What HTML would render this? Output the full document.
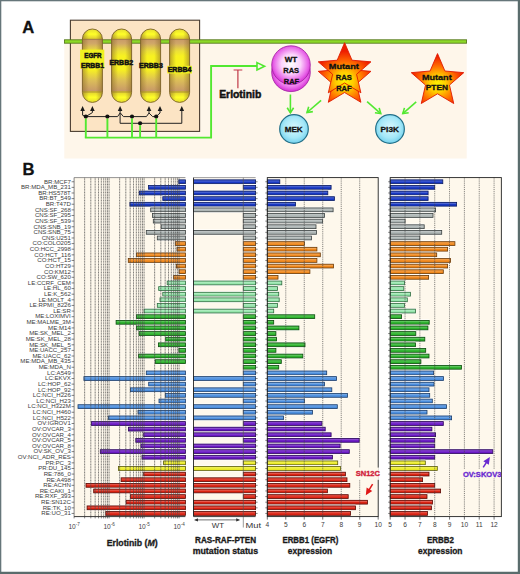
<!DOCTYPE html>
<html><head><meta charset="utf-8"><title>Figure</title>
<style>
html,body{margin:0;padding:0;background:#fff;}
body{width:520px;height:574px;overflow:hidden;}
svg{display:block;font-family:"Liberation Sans", sans-serif;}
</style></head>
<body>
<svg width="520" height="574" viewBox="0 0 520 574">
<rect width="520" height="574" fill="#fff"/>
<rect x="64.3" y="42" width="402.4" height="116.5" fill="#fef6ea"/>
<rect x="70.4" y="20.2" width="129.2" height="111.2" fill="#fce4c4" stroke="#4a3c30" stroke-width="1.1"/>
<rect x="64.4" y="39.8" width="402.2" height="3.4" fill="#8cd828" stroke="#4e7014" stroke-width="0.8"/>
<defs>
<linearGradient id="capv" x1="0" y1="0" x2="0" y2="1">
 <stop offset="0" stop-color="#e4dc30"/>
 <stop offset="0.07" stop-color="#ffff28"/>
 <stop offset="0.13" stop-color="#e0d030"/>
 <stop offset="0.142" stop-color="#c89a68"/>
 <stop offset="0.2" stop-color="#d0a868"/>
 <stop offset="0.3" stop-color="#ece038"/>
 <stop offset="0.37" stop-color="#f8f220"/>
 <stop offset="0.55" stop-color="#f8f220"/>
 <stop offset="0.7" stop-color="#dcbe58"/>
 <stop offset="0.84" stop-color="#c89a68"/>
 <stop offset="0.855" stop-color="#e0d030"/>
 <stop offset="0.93" stop-color="#ffff28"/>
 <stop offset="1" stop-color="#e4dc30"/>
</linearGradient>
<linearGradient id="caph" x1="0" y1="0" x2="1" y2="0">
 <stop offset="0" stop-color="#8a6a28" stop-opacity="0.55"/>
 <stop offset="0.32" stop-color="#8a6a28" stop-opacity="0"/>
 <stop offset="0.68" stop-color="#8a6a28" stop-opacity="0"/>
 <stop offset="1" stop-color="#8a6a28" stop-opacity="0.55"/>
</linearGradient>
<radialGradient id="mag" cx="0.5" cy="0.47" r="0.55">
 <stop offset="0" stop-color="#ffffff"/>
 <stop offset="0.45" stop-color="#fcd4fc"/>
 <stop offset="0.8" stop-color="#e866e8"/>
 <stop offset="1" stop-color="#d020d0"/>
</radialGradient>
<radialGradient id="cyan" cx="0.5" cy="0.45" r="0.6">
 <stop offset="0" stop-color="#d8f8ff"/>
 <stop offset="0.6" stop-color="#a6e8f8"/>
 <stop offset="1" stop-color="#66cceb"/>
</radialGradient>
<radialGradient id="star1" gradientUnits="userSpaceOnUse" cx="344.6" cy="81" r="30">
 <stop offset="0" stop-color="#fff200"/>
 <stop offset="0.3" stop-color="#ffcc00"/>
 <stop offset="0.65" stop-color="#ff6a00"/>
 <stop offset="1" stop-color="#ee1c00"/>
</radialGradient>
<radialGradient id="star2" gradientUnits="userSpaceOnUse" cx="437.5" cy="84" r="28">
 <stop offset="0" stop-color="#fff200"/>
 <stop offset="0.3" stop-color="#ffcc00"/>
 <stop offset="0.65" stop-color="#ff6a00"/>
 <stop offset="1" stop-color="#ee1c00"/>
</radialGradient>
<radialGradient id="star" cx="0.5" cy="0.55" r="0.55">
 <stop offset="0" stop-color="#fff200"/>
 <stop offset="0.35" stop-color="#ffc800"/>
 <stop offset="0.7" stop-color="#ff6a00"/>
 <stop offset="1" stop-color="#ee1c00"/>
</radialGradient>
</defs>
<rect x="82.4" y="29" width="20" height="73.4" rx="10" ry="10" fill="url(#capv)"/>
<rect x="82.4" y="29" width="20" height="73.4" rx="10" ry="10" fill="url(#caph)" stroke="#7a6028" stroke-width="0.9"/>
<line x1="82.8" y1="39.3" x2="102" y2="39.3" stroke="#8a6a30" stroke-width="0.6"/>
<line x1="82.8" y1="92" x2="102" y2="92" stroke="#8a6a30" stroke-width="0.6"/>
<rect x="111.6" y="29" width="20" height="73.4" rx="10" ry="10" fill="url(#capv)"/>
<rect x="111.6" y="29" width="20" height="73.4" rx="10" ry="10" fill="url(#caph)" stroke="#7a6028" stroke-width="0.9"/>
<line x1="112" y1="39.3" x2="131.2" y2="39.3" stroke="#8a6a30" stroke-width="0.6"/>
<line x1="112" y1="92" x2="131.2" y2="92" stroke="#8a6a30" stroke-width="0.6"/>
<rect x="140.6" y="29" width="20" height="73.4" rx="10" ry="10" fill="url(#capv)"/>
<rect x="140.6" y="29" width="20" height="73.4" rx="10" ry="10" fill="url(#caph)" stroke="#7a6028" stroke-width="0.9"/>
<line x1="141" y1="39.3" x2="160.2" y2="39.3" stroke="#8a6a30" stroke-width="0.6"/>
<line x1="141" y1="92" x2="160.2" y2="92" stroke="#8a6a30" stroke-width="0.6"/>
<rect x="169.6" y="29" width="20" height="73.4" rx="10" ry="10" fill="url(#capv)"/>
<rect x="169.6" y="29" width="20" height="73.4" rx="10" ry="10" fill="url(#caph)" stroke="#7a6028" stroke-width="0.9"/>
<line x1="170" y1="39.3" x2="189.2" y2="39.3" stroke="#8a6a30" stroke-width="0.6"/>
<line x1="170" y1="92" x2="189.2" y2="92" stroke="#8a6a30" stroke-width="0.6"/>
<rect x="80.1" y="49.6" width="24.2" height="19" fill="#f0f020"/>
<rect x="167.3" y="65.8" width="24.6" height="7.7" fill="#f0f020"/>
<text x="92.95" y="57.9" font-size="6.6" font-weight="bold" fill="#111" text-anchor="middle" textLength="17.3" lengthAdjust="spacingAndGlyphs" stroke="#111" stroke-width="0.5">EGFR</text>
<text x="92.45" y="67.5" font-size="6.6" font-weight="bold" fill="#111" text-anchor="middle" textLength="23.1" lengthAdjust="spacingAndGlyphs" stroke="#111" stroke-width="0.5">ERBB1</text>
<text x="121.25" y="64.6" font-size="6.6" font-weight="bold" fill="#111" text-anchor="middle" textLength="23.7" lengthAdjust="spacingAndGlyphs" stroke="#111" stroke-width="0.5">ERBB2</text>
<text x="150.95" y="67.8" font-size="6.6" font-weight="bold" fill="#111" text-anchor="middle" textLength="23.7" lengthAdjust="spacingAndGlyphs" stroke="#111" stroke-width="0.5">ERBB3</text>
<text x="179.6" y="71.6" font-size="6.6" font-weight="bold" fill="#111" text-anchor="middle" textLength="23.8" lengthAdjust="spacingAndGlyphs" stroke="#111" stroke-width="0.5">ERBB4</text>
<path d="M82.6 106 L80.3 111 L84.9 111 Z" fill="#1a1a1a"/>
<path d="M92.4 106 L90.1 111 L94.7 111 Z" fill="#1a1a1a"/>
<path d="M120.1 106 L117.8 111 L122.4 111 Z" fill="#1a1a1a"/>
<path d="M149 106 L146.7 111 L151.3 111 Z" fill="#1a1a1a"/>
<path d="M160 106 L157.7 111 L162.3 111 Z" fill="#1a1a1a"/>
<path d="M181.8 106 L179.5 111 L184.1 111 Z" fill="#1a1a1a"/>
<path d="M82.6 110 L82.6 115.2 L85.8 116.6" stroke="#222" stroke-width="1" fill="none" stroke-linejoin="round"/>
<path d="M92.4 110 L92.4 112.6 L85.8 116.6" stroke="#222" stroke-width="1" fill="none" stroke-linejoin="round"/>
<path d="M85.8 116.6 L117.6 116.6 L120.1 113" stroke="#222" stroke-width="1" fill="none" stroke-linejoin="round"/>
<path d="M120.1 110 L120.1 123.3 L181.8 123.3 L181.8 110" stroke="#222" stroke-width="1" fill="none" stroke-linejoin="round"/>
<path d="M120.4 113 L123.4 116.6 L146.4 116.6 L149 113" stroke="#222" stroke-width="1" fill="none" stroke-linejoin="round"/>
<path d="M149 110 L149 113 L152.6 116.6 L156.2 116.6" stroke="#222" stroke-width="1" fill="none" stroke-linejoin="round"/>
<path d="M160 110 L160 113 L156.2 116.6" stroke="#222" stroke-width="1" fill="none" stroke-linejoin="round"/>
<circle cx="85.8" cy="116.6" r="2.1" fill="#111"/>
<circle cx="107.4" cy="116.6" r="2.1" fill="#111"/>
<circle cx="132" cy="116.6" r="2.1" fill="#111"/>
<circle cx="156.2" cy="116.6" r="2.1" fill="#111"/>
<circle cx="140.1" cy="123.3" r="2.1" fill="#111"/>
<line x1="85.8" y1="118.6" x2="85.8" y2="137.6" stroke="#52e830" stroke-width="1.9" fill="none" stroke-linejoin="miter"/>
<line x1="107.4" y1="118.6" x2="107.4" y2="137.6" stroke="#52e830" stroke-width="1.9" fill="none" stroke-linejoin="miter"/>
<line x1="132" y1="118.6" x2="132" y2="137.6" stroke="#52e830" stroke-width="1.9" fill="none" stroke-linejoin="miter"/>
<line x1="156.2" y1="118.6" x2="156.2" y2="137.6" stroke="#52e830" stroke-width="1.9" fill="none" stroke-linejoin="miter"/>
<line x1="140.1" y1="125.3" x2="140.1" y2="137.6" stroke="#52e830" stroke-width="1.9" fill="none" stroke-linejoin="miter"/>
<path d="M84.85 137.6 L211.1 137.6 L211.1 66 L257 66" stroke="#52e830" stroke-width="1.9" fill="none" stroke-linejoin="miter"/>
<path d="M257 62.6 L264.6 66.2 L257 69.9 Z" stroke="#52e830" stroke-width="1.6" fill="#fdf5ea"/>
<path d="M233.6 70 L242.3 70 M237.9 70 L237.9 88.3" stroke="#c03848" stroke-width="1.2" fill="none"/>
<text x="240.25" y="98.1" font-size="10" font-weight="bold" fill="#111" text-anchor="middle" textLength="42.1" lengthAdjust="spacingAndGlyphs" stroke="#111" stroke-width="0.45">Erlotinib</text>
<circle cx="291" cy="72.3" r="19.3" fill="url(#mag)" stroke="#a020a0" stroke-width="0.8"/>
<circle cx="291" cy="65.1" r="19.3" fill="url(#mag)" stroke="#a020a0" stroke-width="0.8"/>
<text x="291" y="61.7" font-size="7.4" font-weight="bold" fill="#111" text-anchor="middle" textLength="12.5" lengthAdjust="spacingAndGlyphs" stroke="#111" stroke-width="0.3">WT</text>
<text x="291.2" y="72.8" font-size="7.4" font-weight="bold" fill="#111" text-anchor="middle" textLength="15.9" lengthAdjust="spacingAndGlyphs" stroke="#111" stroke-width="0.3">RAS</text>
<text x="291.5" y="84.3" font-size="7.4" font-weight="bold" fill="#111" text-anchor="middle" textLength="15.4" lengthAdjust="spacingAndGlyphs" stroke="#111" stroke-width="0.3">RAF</text>
<circle cx="294" cy="129" r="14.3" fill="url(#cyan)" stroke="#236f88" stroke-width="1.2"/>
<text x="293.7" y="131.7" font-size="7.6" font-weight="bold" fill="#111" text-anchor="middle" textLength="18" lengthAdjust="spacingAndGlyphs" stroke="#111" stroke-width="0.3">MEK</text>
<circle cx="390" cy="129" r="14.35" fill="url(#cyan)" stroke="#236f88" stroke-width="1.2"/>
<text x="389.8" y="131.7" font-size="7.8" font-weight="bold" fill="#111" text-anchor="middle" textLength="18.4" lengthAdjust="spacingAndGlyphs" stroke="#111" stroke-width="0.3">PI3K</text>
<polygon points="344.6,52.2 352.01,69.71 370.94,71.34 356.58,83.79 360.88,102.31 344.6,92.5 328.32,102.31 332.62,83.79 318.26,71.34 337.19,69.71" fill="url(#star1)" stroke="#e01800" stroke-width="0.9"/>
<polygon points="344.6,42.7 352.01,60.21 370.94,61.84 356.58,74.29 360.88,92.81 344.6,83 328.32,92.81 332.62,74.29 318.26,61.84 337.19,60.21" fill="url(#star1)" stroke="#e01800" stroke-width="0.9"/>
<text x="343.8" y="68.8" font-size="7.2" font-weight="bold" fill="#111" text-anchor="middle" textLength="30" lengthAdjust="spacingAndGlyphs" stroke="#111" stroke-width="0.3">Mutant</text>
<text x="343.85" y="79.9" font-size="7.2" font-weight="bold" fill="#111" text-anchor="middle" textLength="16.1" lengthAdjust="spacingAndGlyphs" stroke="#111" stroke-width="0.3">RAS</text>
<text x="343.85" y="90.7" font-size="7.2" font-weight="bold" fill="#111" text-anchor="middle" textLength="15.3" lengthAdjust="spacingAndGlyphs" stroke="#111" stroke-width="0.3">RAF</text>
<polygon points="437.5,53.6 444.91,71.01 463.75,72.67 449.48,85.09 453.72,103.53 437.5,93.8 421.28,103.53 425.52,85.09 411.25,72.67 430.09,71.01" fill="url(#star2)" stroke="#e01800" stroke-width="0.9"/>
<text x="436.8" y="79.8" font-size="7.6" font-weight="bold" fill="#111" text-anchor="middle" textLength="29.8" lengthAdjust="spacingAndGlyphs" stroke="#111" stroke-width="0.3">Mutant</text>
<text x="436.85" y="90.4" font-size="7.6" font-weight="bold" fill="#111" text-anchor="middle" textLength="22.1" lengthAdjust="spacingAndGlyphs" stroke="#111" stroke-width="0.3">PTEN</text>
<line x1="290.4" y1="94.5" x2="290.4" y2="112.8" stroke="#52e830" stroke-width="1.6" fill="none"/>
<path d="M287.2 107.8 L290.4 112.8 L293.6 107.8" stroke="#52e830" stroke-width="1.6" fill="none"/>
<line x1="321.1" y1="100.3" x2="307" y2="112.5" stroke="#52e830" stroke-width="1.6" fill="none"/>
<path d="M308.69 106.81 L307 112.5 L312.87 111.65" stroke="#52e830" stroke-width="1.6" fill="none"/>
<line x1="367.1" y1="101.6" x2="380.8" y2="113.6" stroke="#52e830" stroke-width="1.6" fill="none"/>
<path d="M374.93 112.71 L380.8 113.6 L379.15 107.9" stroke="#52e830" stroke-width="1.6" fill="none"/>
<line x1="416.2" y1="101.9" x2="402.8" y2="113.6" stroke="#52e830" stroke-width="1.6" fill="none"/>
<path d="M404.46 107.9 L402.8 113.6 L408.67 112.72" stroke="#52e830" stroke-width="1.6" fill="none"/>
<text x="28.2" y="33.1" font-size="16.6" font-weight="bold" fill="#111" text-anchor="middle" stroke="#111" stroke-width="0.3">A</text>
<text x="28.4" y="175.2" font-size="16.6" font-weight="bold" fill="#111" text-anchor="middle" stroke="#111" stroke-width="0.3">B</text>
<rect x="74.1" y="177.6" width="111.3" height="339" fill="#fef8ec"/>
<rect x="178.8" y="178.65" width="6.6" height="6.2" fill="#fffefb"/>
<rect x="178.8" y="179.85" width="6.6" height="3.8" fill="#1838c4" stroke="#0c1c60" stroke-width="0.8"/>
<rect x="179.3" y="180.55" width="5.6" height="1" fill="#fff" opacity="0.25"/>
<rect x="148.5" y="184.27" width="36.9" height="6.2" fill="#fffefb"/>
<rect x="148.5" y="185.47" width="36.9" height="3.8" fill="#1838c4" stroke="#0c1c60" stroke-width="0.8"/>
<rect x="149" y="186.17" width="35.9" height="1" fill="#fff" opacity="0.25"/>
<rect x="139.3" y="189.89" width="46.1" height="6.2" fill="#fffefb"/>
<rect x="139.3" y="191.09" width="46.1" height="3.8" fill="#1838c4" stroke="#0c1c60" stroke-width="0.8"/>
<rect x="139.8" y="191.79" width="45.1" height="1" fill="#fff" opacity="0.25"/>
<rect x="162.8" y="195.52" width="22.6" height="6.2" fill="#fffefb"/>
<rect x="162.8" y="196.72" width="22.6" height="3.8" fill="#1838c4" stroke="#0c1c60" stroke-width="0.8"/>
<rect x="163.3" y="197.42" width="21.6" height="1" fill="#fff" opacity="0.25"/>
<rect x="129.9" y="201.14" width="55.5" height="6.2" fill="#fffefb"/>
<rect x="129.9" y="202.34" width="55.5" height="3.8" fill="#1838c4" stroke="#0c1c60" stroke-width="0.8"/>
<rect x="130.4" y="203.04" width="54.5" height="1" fill="#fff" opacity="0.25"/>
<rect x="150.7" y="206.76" width="34.7" height="6.2" fill="#fffefb"/>
<rect x="150.7" y="207.96" width="34.7" height="3.8" fill="#adb5b4" stroke="#3a4040" stroke-width="0.8"/>
<rect x="151.2" y="208.66" width="33.7" height="1" fill="#fff" opacity="0.25"/>
<rect x="152.4" y="212.38" width="33" height="6.2" fill="#fffefb"/>
<rect x="152.4" y="213.58" width="33" height="3.8" fill="#adb5b4" stroke="#3a4040" stroke-width="0.8"/>
<rect x="152.9" y="214.28" width="32" height="1" fill="#fff" opacity="0.25"/>
<rect x="153.3" y="218" width="32.1" height="6.2" fill="#fffefb"/>
<rect x="153.3" y="219.2" width="32.1" height="3.8" fill="#adb5b4" stroke="#3a4040" stroke-width="0.8"/>
<rect x="153.8" y="219.9" width="31.1" height="1" fill="#fff" opacity="0.25"/>
<rect x="161.2" y="223.63" width="24.2" height="6.2" fill="#fffefb"/>
<rect x="161.2" y="224.83" width="24.2" height="3.8" fill="#adb5b4" stroke="#3a4040" stroke-width="0.8"/>
<rect x="161.7" y="225.53" width="23.2" height="1" fill="#fff" opacity="0.25"/>
<rect x="146.3" y="229.25" width="39.1" height="6.2" fill="#fffefb"/>
<rect x="146.3" y="230.45" width="39.1" height="3.8" fill="#adb5b4" stroke="#3a4040" stroke-width="0.8"/>
<rect x="146.8" y="231.15" width="38.1" height="1" fill="#fff" opacity="0.25"/>
<rect x="157.3" y="234.87" width="28.1" height="6.2" fill="#fffefb"/>
<rect x="157.3" y="236.07" width="28.1" height="3.8" fill="#adb5b4" stroke="#3a4040" stroke-width="0.8"/>
<rect x="157.8" y="236.77" width="27.1" height="1" fill="#fff" opacity="0.25"/>
<rect x="175.3" y="240.49" width="10.1" height="6.2" fill="#fffefb"/>
<rect x="175.3" y="241.69" width="10.1" height="3.8" fill="#f0881c" stroke="#6a3a08" stroke-width="0.8"/>
<rect x="175.8" y="242.39" width="9.1" height="1" fill="#fff" opacity="0.25"/>
<rect x="177" y="246.11" width="8.4" height="6.2" fill="#fffefb"/>
<rect x="177" y="247.31" width="8.4" height="3.8" fill="#f0881c" stroke="#6a3a08" stroke-width="0.8"/>
<rect x="177.5" y="248.01" width="7.4" height="1" fill="#fff" opacity="0.25"/>
<rect x="136.4" y="251.74" width="49" height="6.2" fill="#fffefb"/>
<rect x="136.4" y="252.94" width="49" height="3.8" fill="#f0881c" stroke="#6a3a08" stroke-width="0.8"/>
<rect x="136.9" y="253.64" width="48" height="1" fill="#fff" opacity="0.25"/>
<rect x="128.3" y="257.36" width="57.1" height="6.2" fill="#fffefb"/>
<rect x="128.3" y="258.56" width="57.1" height="3.8" fill="#f0881c" stroke="#6a3a08" stroke-width="0.8"/>
<rect x="128.8" y="259.26" width="56.1" height="1" fill="#fff" opacity="0.25"/>
<rect x="176.5" y="262.98" width="8.9" height="6.2" fill="#fffefb"/>
<rect x="176.5" y="264.18" width="8.9" height="3.8" fill="#f0881c" stroke="#6a3a08" stroke-width="0.8"/>
<rect x="177" y="264.88" width="7.9" height="1" fill="#fff" opacity="0.25"/>
<rect x="179.1" y="268.6" width="6.3" height="6.2" fill="#fffefb"/>
<rect x="179.1" y="269.8" width="6.3" height="3.8" fill="#f0881c" stroke="#6a3a08" stroke-width="0.8"/>
<rect x="179.6" y="270.5" width="5.3" height="1" fill="#fff" opacity="0.25"/>
<rect x="173.7" y="274.22" width="11.7" height="6.2" fill="#fffefb"/>
<rect x="173.7" y="275.42" width="11.7" height="3.8" fill="#f0881c" stroke="#6a3a08" stroke-width="0.8"/>
<rect x="174.2" y="276.12" width="10.7" height="1" fill="#fff" opacity="0.25"/>
<rect x="167.2" y="279.85" width="18.2" height="6.2" fill="#fffefb"/>
<rect x="167.2" y="281.05" width="18.2" height="3.8" fill="#96e6ac" stroke="#2e6a3e" stroke-width="0.8"/>
<rect x="167.7" y="281.75" width="17.2" height="1" fill="#fff" opacity="0.25"/>
<rect x="158.7" y="285.47" width="26.7" height="6.2" fill="#fffefb"/>
<rect x="158.7" y="286.67" width="26.7" height="3.8" fill="#96e6ac" stroke="#2e6a3e" stroke-width="0.8"/>
<rect x="159.2" y="287.37" width="25.7" height="1" fill="#fff" opacity="0.25"/>
<rect x="162.8" y="291.09" width="22.6" height="6.2" fill="#fffefb"/>
<rect x="162.8" y="292.29" width="22.6" height="3.8" fill="#96e6ac" stroke="#2e6a3e" stroke-width="0.8"/>
<rect x="163.3" y="292.99" width="21.6" height="1" fill="#fff" opacity="0.25"/>
<rect x="160" y="296.71" width="25.4" height="6.2" fill="#fffefb"/>
<rect x="160" y="297.91" width="25.4" height="3.8" fill="#96e6ac" stroke="#2e6a3e" stroke-width="0.8"/>
<rect x="160.5" y="298.61" width="24.4" height="1" fill="#fff" opacity="0.25"/>
<rect x="157.3" y="302.33" width="28.1" height="6.2" fill="#fffefb"/>
<rect x="157.3" y="303.53" width="28.1" height="3.8" fill="#96e6ac" stroke="#2e6a3e" stroke-width="0.8"/>
<rect x="157.8" y="304.23" width="27.1" height="1" fill="#fff" opacity="0.25"/>
<rect x="144.1" y="307.96" width="41.3" height="6.2" fill="#fffefb"/>
<rect x="144.1" y="309.16" width="41.3" height="3.8" fill="#96e6ac" stroke="#2e6a3e" stroke-width="0.8"/>
<rect x="144.6" y="309.86" width="40.3" height="1" fill="#fff" opacity="0.25"/>
<rect x="136.5" y="313.58" width="48.9" height="6.2" fill="#fffefb"/>
<rect x="136.5" y="314.78" width="48.9" height="3.8" fill="#2db42d" stroke="#0c4a0c" stroke-width="0.8"/>
<rect x="137" y="315.48" width="47.9" height="1" fill="#fff" opacity="0.25"/>
<rect x="116.1" y="319.2" width="69.3" height="6.2" fill="#fffefb"/>
<rect x="116.1" y="320.4" width="69.3" height="3.8" fill="#2db42d" stroke="#0c4a0c" stroke-width="0.8"/>
<rect x="116.6" y="321.1" width="68.3" height="1" fill="#fff" opacity="0.25"/>
<rect x="136.5" y="324.82" width="48.9" height="6.2" fill="#fffefb"/>
<rect x="136.5" y="326.02" width="48.9" height="3.8" fill="#2db42d" stroke="#0c4a0c" stroke-width="0.8"/>
<rect x="137" y="326.72" width="47.9" height="1" fill="#fff" opacity="0.25"/>
<rect x="139.1" y="330.44" width="46.3" height="6.2" fill="#fffefb"/>
<rect x="139.1" y="331.64" width="46.3" height="3.8" fill="#2db42d" stroke="#0c4a0c" stroke-width="0.8"/>
<rect x="139.6" y="332.34" width="45.3" height="1" fill="#fff" opacity="0.25"/>
<rect x="165.7" y="336.07" width="19.7" height="6.2" fill="#fffefb"/>
<rect x="165.7" y="337.27" width="19.7" height="3.8" fill="#2db42d" stroke="#0c4a0c" stroke-width="0.8"/>
<rect x="166.2" y="337.97" width="18.7" height="1" fill="#fff" opacity="0.25"/>
<rect x="158.4" y="341.69" width="27" height="6.2" fill="#fffefb"/>
<rect x="158.4" y="342.89" width="27" height="3.8" fill="#2db42d" stroke="#0c4a0c" stroke-width="0.8"/>
<rect x="158.9" y="343.59" width="26" height="1" fill="#fff" opacity="0.25"/>
<rect x="178.9" y="347.31" width="6.5" height="6.2" fill="#fffefb"/>
<rect x="178.9" y="348.51" width="6.5" height="3.8" fill="#2db42d" stroke="#0c4a0c" stroke-width="0.8"/>
<rect x="179.4" y="349.21" width="5.5" height="1" fill="#fff" opacity="0.25"/>
<rect x="138.6" y="352.93" width="46.8" height="6.2" fill="#fffefb"/>
<rect x="138.6" y="354.13" width="46.8" height="3.8" fill="#2db42d" stroke="#0c4a0c" stroke-width="0.8"/>
<rect x="139.1" y="354.83" width="45.8" height="1" fill="#fff" opacity="0.25"/>
<rect x="155.3" y="358.55" width="30.1" height="6.2" fill="#fffefb"/>
<rect x="155.3" y="359.75" width="30.1" height="3.8" fill="#2db42d" stroke="#0c4a0c" stroke-width="0.8"/>
<rect x="155.8" y="360.45" width="29.1" height="1" fill="#fff" opacity="0.25"/>
<rect x="146.3" y="369.8" width="39.1" height="6.2" fill="#fffefb"/>
<rect x="146.3" y="371" width="39.1" height="3.8" fill="#4b8ede" stroke="#1c3c68" stroke-width="0.8"/>
<rect x="146.8" y="371.7" width="38.1" height="1" fill="#fff" opacity="0.25"/>
<rect x="83.9" y="375.42" width="101.5" height="6.2" fill="#fffefb"/>
<rect x="83.9" y="376.62" width="101.5" height="3.8" fill="#4b8ede" stroke="#1c3c68" stroke-width="0.8"/>
<rect x="84.4" y="377.32" width="100.5" height="1" fill="#fff" opacity="0.25"/>
<rect x="148.7" y="381.04" width="36.7" height="6.2" fill="#fffefb"/>
<rect x="148.7" y="382.24" width="36.7" height="3.8" fill="#4b8ede" stroke="#1c3c68" stroke-width="0.8"/>
<rect x="149.2" y="382.94" width="35.7" height="1" fill="#fff" opacity="0.25"/>
<rect x="130.5" y="386.66" width="54.9" height="6.2" fill="#fffefb"/>
<rect x="130.5" y="387.86" width="54.9" height="3.8" fill="#4b8ede" stroke="#1c3c68" stroke-width="0.8"/>
<rect x="131" y="388.56" width="53.9" height="1" fill="#fff" opacity="0.25"/>
<rect x="165.3" y="392.29" width="20.1" height="6.2" fill="#fffefb"/>
<rect x="165.3" y="393.49" width="20.1" height="3.8" fill="#4b8ede" stroke="#1c3c68" stroke-width="0.8"/>
<rect x="165.8" y="394.19" width="19.1" height="1" fill="#fff" opacity="0.25"/>
<rect x="159" y="397.91" width="26.4" height="6.2" fill="#fffefb"/>
<rect x="159" y="399.11" width="26.4" height="3.8" fill="#4b8ede" stroke="#1c3c68" stroke-width="0.8"/>
<rect x="159.5" y="399.81" width="25.4" height="1" fill="#fff" opacity="0.25"/>
<rect x="78" y="403.53" width="107.4" height="6.2" fill="#fffefb"/>
<rect x="78" y="404.73" width="107.4" height="3.8" fill="#4b8ede" stroke="#1c3c68" stroke-width="0.8"/>
<rect x="78.5" y="405.43" width="106.4" height="1" fill="#fff" opacity="0.25"/>
<rect x="138" y="409.15" width="47.4" height="6.2" fill="#fffefb"/>
<rect x="138" y="410.35" width="47.4" height="3.8" fill="#4b8ede" stroke="#1c3c68" stroke-width="0.8"/>
<rect x="138.5" y="411.05" width="46.4" height="1" fill="#fff" opacity="0.25"/>
<rect x="108.6" y="414.77" width="76.8" height="6.2" fill="#fffefb"/>
<rect x="108.6" y="415.97" width="76.8" height="3.8" fill="#4b8ede" stroke="#1c3c68" stroke-width="0.8"/>
<rect x="109.1" y="416.67" width="75.8" height="1" fill="#fff" opacity="0.25"/>
<rect x="91.5" y="420.4" width="93.9" height="6.2" fill="#fffefb"/>
<rect x="91.5" y="421.6" width="93.9" height="3.8" fill="#6a18c4" stroke="#2a0658" stroke-width="0.8"/>
<rect x="92" y="422.3" width="92.9" height="1" fill="#fff" opacity="0.25"/>
<rect x="128.4" y="426.02" width="57" height="6.2" fill="#fffefb"/>
<rect x="128.4" y="427.22" width="57" height="3.8" fill="#6a18c4" stroke="#2a0658" stroke-width="0.8"/>
<rect x="128.9" y="427.92" width="56" height="1" fill="#fff" opacity="0.25"/>
<rect x="143.7" y="431.64" width="41.7" height="6.2" fill="#fffefb"/>
<rect x="143.7" y="432.84" width="41.7" height="3.8" fill="#6a18c4" stroke="#2a0658" stroke-width="0.8"/>
<rect x="144.2" y="433.54" width="40.7" height="1" fill="#fff" opacity="0.25"/>
<rect x="135.8" y="437.26" width="49.6" height="6.2" fill="#fffefb"/>
<rect x="135.8" y="438.46" width="49.6" height="3.8" fill="#6a18c4" stroke="#2a0658" stroke-width="0.8"/>
<rect x="136.3" y="439.16" width="48.6" height="1" fill="#fff" opacity="0.25"/>
<rect x="140.9" y="442.88" width="44.5" height="6.2" fill="#fffefb"/>
<rect x="140.9" y="444.08" width="44.5" height="3.8" fill="#6a18c4" stroke="#2a0658" stroke-width="0.8"/>
<rect x="141.4" y="444.78" width="43.5" height="1" fill="#fff" opacity="0.25"/>
<rect x="100.3" y="448.51" width="85.1" height="6.2" fill="#fffefb"/>
<rect x="100.3" y="449.71" width="85.1" height="3.8" fill="#6a18c4" stroke="#2a0658" stroke-width="0.8"/>
<rect x="100.8" y="450.41" width="84.1" height="1" fill="#fff" opacity="0.25"/>
<rect x="142" y="454.13" width="43.4" height="6.2" fill="#fffefb"/>
<rect x="142" y="455.33" width="43.4" height="3.8" fill="#6a18c4" stroke="#2a0658" stroke-width="0.8"/>
<rect x="142.5" y="456.03" width="42.4" height="1" fill="#fff" opacity="0.25"/>
<rect x="163.6" y="459.75" width="21.8" height="6.2" fill="#fffefb"/>
<rect x="163.6" y="460.95" width="21.8" height="3.8" fill="#ecec28" stroke="#5a5a08" stroke-width="0.8"/>
<rect x="164.1" y="461.65" width="20.8" height="1" fill="#fff" opacity="0.25"/>
<rect x="118.5" y="465.37" width="66.9" height="6.2" fill="#fffefb"/>
<rect x="118.5" y="466.57" width="66.9" height="3.8" fill="#ecec28" stroke="#5a5a08" stroke-width="0.8"/>
<rect x="119" y="467.27" width="65.9" height="1" fill="#fff" opacity="0.25"/>
<rect x="143.7" y="470.99" width="41.7" height="6.2" fill="#fffefb"/>
<rect x="143.7" y="472.19" width="41.7" height="3.8" fill="#dc2414" stroke="#5a0a04" stroke-width="0.8"/>
<rect x="144.2" y="472.89" width="40.7" height="1" fill="#fff" opacity="0.25"/>
<rect x="121.1" y="476.62" width="64.3" height="6.2" fill="#fffefb"/>
<rect x="121.1" y="477.82" width="64.3" height="3.8" fill="#dc2414" stroke="#5a0a04" stroke-width="0.8"/>
<rect x="121.6" y="478.52" width="63.3" height="1" fill="#fff" opacity="0.25"/>
<rect x="86" y="482.24" width="99.4" height="6.2" fill="#fffefb"/>
<rect x="86" y="483.44" width="99.4" height="3.8" fill="#dc2414" stroke="#5a0a04" stroke-width="0.8"/>
<rect x="86.5" y="484.14" width="98.4" height="1" fill="#fff" opacity="0.25"/>
<rect x="93.7" y="487.86" width="91.7" height="6.2" fill="#fffefb"/>
<rect x="93.7" y="489.06" width="91.7" height="3.8" fill="#dc2414" stroke="#5a0a04" stroke-width="0.8"/>
<rect x="94.2" y="489.76" width="90.7" height="1" fill="#fff" opacity="0.25"/>
<rect x="130.5" y="493.48" width="54.9" height="6.2" fill="#fffefb"/>
<rect x="130.5" y="494.68" width="54.9" height="3.8" fill="#dc2414" stroke="#5a0a04" stroke-width="0.8"/>
<rect x="131" y="495.38" width="53.9" height="1" fill="#fff" opacity="0.25"/>
<rect x="126.1" y="499.1" width="59.3" height="6.2" fill="#fffefb"/>
<rect x="126.1" y="500.3" width="59.3" height="3.8" fill="#dc2414" stroke="#5a0a04" stroke-width="0.8"/>
<rect x="126.6" y="501" width="58.3" height="1" fill="#fff" opacity="0.25"/>
<rect x="87.1" y="504.73" width="98.3" height="6.2" fill="#fffefb"/>
<rect x="87.1" y="505.93" width="98.3" height="3.8" fill="#dc2414" stroke="#5a0a04" stroke-width="0.8"/>
<rect x="87.6" y="506.63" width="97.3" height="1" fill="#fff" opacity="0.25"/>
<rect x="105.8" y="510.35" width="79.6" height="6.2" fill="#fffefb"/>
<rect x="105.8" y="511.55" width="79.6" height="3.8" fill="#dc2414" stroke="#5a0a04" stroke-width="0.8"/>
<rect x="106.3" y="512.25" width="78.6" height="1" fill="#fff" opacity="0.25"/>
<line x1="84.64" y1="177.6" x2="84.64" y2="516.6" stroke="#4a4a4a" stroke-width="0.85" stroke-dasharray="1.1 0.5" opacity="0.85"/>
<line x1="90.8" y1="177.6" x2="90.8" y2="516.6" stroke="#4a4a4a" stroke-width="0.85" stroke-dasharray="1.1 0.5" opacity="0.85"/>
<line x1="95.17" y1="177.6" x2="95.17" y2="516.6" stroke="#4a4a4a" stroke-width="0.85" stroke-dasharray="1.1 0.5" opacity="0.85"/>
<line x1="98.56" y1="177.6" x2="98.56" y2="516.6" stroke="#4a4a4a" stroke-width="0.85" stroke-dasharray="1.1 0.5" opacity="0.85"/>
<line x1="101.34" y1="177.6" x2="101.34" y2="516.6" stroke="#4a4a4a" stroke-width="0.85" stroke-dasharray="1.1 0.5" opacity="0.85"/>
<line x1="103.68" y1="177.6" x2="103.68" y2="516.6" stroke="#4a4a4a" stroke-width="0.85" stroke-dasharray="1.1 0.5" opacity="0.85"/>
<line x1="105.71" y1="177.6" x2="105.71" y2="516.6" stroke="#4a4a4a" stroke-width="0.85" stroke-dasharray="1.1 0.5" opacity="0.85"/>
<line x1="107.5" y1="177.6" x2="107.5" y2="516.6" stroke="#4a4a4a" stroke-width="0.85" stroke-dasharray="1.1 0.5" opacity="0.85"/>
<line x1="109.1" y1="177.6" x2="109.1" y2="516.6" stroke="#4a4a4a" stroke-width="0.85" stroke-dasharray="1.1 0.5" opacity="0.85"/>
<line x1="119.64" y1="177.6" x2="119.64" y2="516.6" stroke="#4a4a4a" stroke-width="0.85" stroke-dasharray="1.1 0.5" opacity="0.85"/>
<line x1="125.8" y1="177.6" x2="125.8" y2="516.6" stroke="#4a4a4a" stroke-width="0.85" stroke-dasharray="1.1 0.5" opacity="0.85"/>
<line x1="130.17" y1="177.6" x2="130.17" y2="516.6" stroke="#4a4a4a" stroke-width="0.85" stroke-dasharray="1.1 0.5" opacity="0.85"/>
<line x1="133.56" y1="177.6" x2="133.56" y2="516.6" stroke="#4a4a4a" stroke-width="0.85" stroke-dasharray="1.1 0.5" opacity="0.85"/>
<line x1="136.34" y1="177.6" x2="136.34" y2="516.6" stroke="#4a4a4a" stroke-width="0.85" stroke-dasharray="1.1 0.5" opacity="0.85"/>
<line x1="138.68" y1="177.6" x2="138.68" y2="516.6" stroke="#4a4a4a" stroke-width="0.85" stroke-dasharray="1.1 0.5" opacity="0.85"/>
<line x1="140.71" y1="177.6" x2="140.71" y2="516.6" stroke="#4a4a4a" stroke-width="0.85" stroke-dasharray="1.1 0.5" opacity="0.85"/>
<line x1="142.5" y1="177.6" x2="142.5" y2="516.6" stroke="#4a4a4a" stroke-width="0.85" stroke-dasharray="1.1 0.5" opacity="0.85"/>
<line x1="144.1" y1="177.6" x2="144.1" y2="516.6" stroke="#4a4a4a" stroke-width="0.85" stroke-dasharray="1.1 0.5" opacity="0.85"/>
<line x1="154.64" y1="177.6" x2="154.64" y2="516.6" stroke="#4a4a4a" stroke-width="0.85" stroke-dasharray="1.1 0.5" opacity="0.85"/>
<line x1="160.8" y1="177.6" x2="160.8" y2="516.6" stroke="#4a4a4a" stroke-width="0.85" stroke-dasharray="1.1 0.5" opacity="0.85"/>
<line x1="165.17" y1="177.6" x2="165.17" y2="516.6" stroke="#4a4a4a" stroke-width="0.85" stroke-dasharray="1.1 0.5" opacity="0.85"/>
<line x1="168.56" y1="177.6" x2="168.56" y2="516.6" stroke="#4a4a4a" stroke-width="0.85" stroke-dasharray="1.1 0.5" opacity="0.85"/>
<line x1="171.34" y1="177.6" x2="171.34" y2="516.6" stroke="#4a4a4a" stroke-width="0.85" stroke-dasharray="1.1 0.5" opacity="0.85"/>
<line x1="173.68" y1="177.6" x2="173.68" y2="516.6" stroke="#4a4a4a" stroke-width="0.85" stroke-dasharray="1.1 0.5" opacity="0.85"/>
<line x1="175.71" y1="177.6" x2="175.71" y2="516.6" stroke="#4a4a4a" stroke-width="0.85" stroke-dasharray="1.1 0.5" opacity="0.85"/>
<line x1="177.5" y1="177.6" x2="177.5" y2="516.6" stroke="#4a4a4a" stroke-width="0.85" stroke-dasharray="1.1 0.5" opacity="0.85"/>
<line x1="179.1" y1="177.6" x2="179.1" y2="516.6" stroke="#4a4a4a" stroke-width="0.85" stroke-dasharray="1.1 0.5" opacity="0.85"/>
<line x1="74.1" y1="177.6" x2="185.4" y2="177.6" stroke="#777" stroke-width="0.8"/>
<line x1="74.1" y1="177.6" x2="74.1" y2="516.6" stroke="#777" stroke-width="0.9"/>
<line x1="74.1" y1="516.6" x2="185.4" y2="516.6" stroke="#222" stroke-width="0.9"/>
<line x1="74.1" y1="516.6" x2="74.1" y2="518.4" stroke="#333" stroke-width="0.6"/>
<line x1="84.64" y1="516.6" x2="84.64" y2="518.4" stroke="#333" stroke-width="0.6"/>
<line x1="90.8" y1="516.6" x2="90.8" y2="518.4" stroke="#333" stroke-width="0.6"/>
<line x1="95.17" y1="516.6" x2="95.17" y2="518.4" stroke="#333" stroke-width="0.6"/>
<line x1="98.56" y1="516.6" x2="98.56" y2="518.4" stroke="#333" stroke-width="0.6"/>
<line x1="101.34" y1="516.6" x2="101.34" y2="518.4" stroke="#333" stroke-width="0.6"/>
<line x1="103.68" y1="516.6" x2="103.68" y2="518.4" stroke="#333" stroke-width="0.6"/>
<line x1="105.71" y1="516.6" x2="105.71" y2="518.4" stroke="#333" stroke-width="0.6"/>
<line x1="107.5" y1="516.6" x2="107.5" y2="518.4" stroke="#333" stroke-width="0.6"/>
<line x1="109.1" y1="516.6" x2="109.1" y2="518.4" stroke="#333" stroke-width="0.6"/>
<line x1="119.64" y1="516.6" x2="119.64" y2="518.4" stroke="#333" stroke-width="0.6"/>
<line x1="125.8" y1="516.6" x2="125.8" y2="518.4" stroke="#333" stroke-width="0.6"/>
<line x1="130.17" y1="516.6" x2="130.17" y2="518.4" stroke="#333" stroke-width="0.6"/>
<line x1="133.56" y1="516.6" x2="133.56" y2="518.4" stroke="#333" stroke-width="0.6"/>
<line x1="136.34" y1="516.6" x2="136.34" y2="518.4" stroke="#333" stroke-width="0.6"/>
<line x1="138.68" y1="516.6" x2="138.68" y2="518.4" stroke="#333" stroke-width="0.6"/>
<line x1="140.71" y1="516.6" x2="140.71" y2="518.4" stroke="#333" stroke-width="0.6"/>
<line x1="142.5" y1="516.6" x2="142.5" y2="518.4" stroke="#333" stroke-width="0.6"/>
<line x1="144.1" y1="516.6" x2="144.1" y2="518.4" stroke="#333" stroke-width="0.6"/>
<line x1="154.64" y1="516.6" x2="154.64" y2="518.4" stroke="#333" stroke-width="0.6"/>
<line x1="160.8" y1="516.6" x2="160.8" y2="518.4" stroke="#333" stroke-width="0.6"/>
<line x1="165.17" y1="516.6" x2="165.17" y2="518.4" stroke="#333" stroke-width="0.6"/>
<line x1="168.56" y1="516.6" x2="168.56" y2="518.4" stroke="#333" stroke-width="0.6"/>
<line x1="171.34" y1="516.6" x2="171.34" y2="518.4" stroke="#333" stroke-width="0.6"/>
<line x1="173.68" y1="516.6" x2="173.68" y2="518.4" stroke="#333" stroke-width="0.6"/>
<line x1="175.71" y1="516.6" x2="175.71" y2="518.4" stroke="#333" stroke-width="0.6"/>
<line x1="177.5" y1="516.6" x2="177.5" y2="518.4" stroke="#333" stroke-width="0.6"/>
<line x1="179.1" y1="516.6" x2="179.1" y2="518.4" stroke="#333" stroke-width="0.6"/>
<text x="74.1" y="528.6" font-size="6.6" fill="#444" text-anchor="middle">10<tspan font-size="4.6" dy="-2.6">-7</tspan></text>
<text x="109.1" y="528.6" font-size="6.6" fill="#444" text-anchor="middle">10<tspan font-size="4.6" dy="-2.6">-6</tspan></text>
<text x="144.1" y="528.6" font-size="6.6" fill="#444" text-anchor="middle">10<tspan font-size="4.6" dy="-2.6">-5</tspan></text>
<text x="179.1" y="528.6" font-size="6.6" fill="#444" text-anchor="middle">10<tspan font-size="4.6" dy="-2.6">-4</tspan></text>
<text x="70.8" y="183.55" font-size="6.1" fill="#3c3c3c" text-anchor="end">BR:MCF7</text>
<line x1="71.6" y1="181.75" x2="74.1" y2="181.75" stroke="#333" stroke-width="0.6"/>
<text x="70.8" y="189.17" font-size="6.1" fill="#3c3c3c" text-anchor="end">BR:MDA_MB_231</text>
<line x1="71.6" y1="187.37" x2="74.1" y2="187.37" stroke="#333" stroke-width="0.6"/>
<text x="70.8" y="194.79" font-size="6.1" fill="#3c3c3c" text-anchor="end">BR:HS578T</text>
<line x1="71.6" y1="192.99" x2="74.1" y2="192.99" stroke="#333" stroke-width="0.6"/>
<text x="70.8" y="200.42" font-size="6.1" fill="#3c3c3c" text-anchor="end">BR:BT_549</text>
<line x1="71.6" y1="198.62" x2="74.1" y2="198.62" stroke="#333" stroke-width="0.6"/>
<text x="70.8" y="206.04" font-size="6.1" fill="#3c3c3c" text-anchor="end">BR:T47D</text>
<line x1="71.6" y1="204.24" x2="74.1" y2="204.24" stroke="#333" stroke-width="0.6"/>
<text x="70.8" y="211.66" font-size="6.1" fill="#3c3c3c" text-anchor="end">CNS:SF_268</text>
<line x1="71.6" y1="209.86" x2="74.1" y2="209.86" stroke="#333" stroke-width="0.6"/>
<text x="70.8" y="217.28" font-size="6.1" fill="#3c3c3c" text-anchor="end">CNS:SF_295</text>
<line x1="71.6" y1="215.48" x2="74.1" y2="215.48" stroke="#333" stroke-width="0.6"/>
<text x="70.8" y="222.9" font-size="6.1" fill="#3c3c3c" text-anchor="end">CNS:SF_539</text>
<line x1="71.6" y1="221.1" x2="74.1" y2="221.1" stroke="#333" stroke-width="0.6"/>
<text x="70.8" y="228.53" font-size="6.1" fill="#3c3c3c" text-anchor="end">CNS:SNB_19</text>
<line x1="71.6" y1="226.73" x2="74.1" y2="226.73" stroke="#333" stroke-width="0.6"/>
<text x="70.8" y="234.15" font-size="6.1" fill="#3c3c3c" text-anchor="end">CNS:SNB_75</text>
<line x1="71.6" y1="232.35" x2="74.1" y2="232.35" stroke="#333" stroke-width="0.6"/>
<text x="70.8" y="239.77" font-size="6.1" fill="#3c3c3c" text-anchor="end">CNS:U251</text>
<line x1="71.6" y1="237.97" x2="74.1" y2="237.97" stroke="#333" stroke-width="0.6"/>
<text x="70.8" y="245.39" font-size="6.1" fill="#3c3c3c" text-anchor="end">CO:COLO205</text>
<line x1="71.6" y1="243.59" x2="74.1" y2="243.59" stroke="#333" stroke-width="0.6"/>
<text x="70.8" y="251.01" font-size="6.1" fill="#3c3c3c" text-anchor="end">CO:HCC_2998</text>
<line x1="71.6" y1="249.21" x2="74.1" y2="249.21" stroke="#333" stroke-width="0.6"/>
<text x="70.8" y="256.64" font-size="6.1" fill="#3c3c3c" text-anchor="end">CO:HCT_116</text>
<line x1="71.6" y1="254.84" x2="74.1" y2="254.84" stroke="#333" stroke-width="0.6"/>
<text x="70.8" y="262.26" font-size="6.1" fill="#3c3c3c" text-anchor="end">CO:HCT_15</text>
<line x1="71.6" y1="260.46" x2="74.1" y2="260.46" stroke="#333" stroke-width="0.6"/>
<text x="70.8" y="267.88" font-size="6.1" fill="#3c3c3c" text-anchor="end">CO:HT29</text>
<line x1="71.6" y1="266.08" x2="74.1" y2="266.08" stroke="#333" stroke-width="0.6"/>
<text x="70.8" y="273.5" font-size="6.1" fill="#3c3c3c" text-anchor="end">CO:KM12</text>
<line x1="71.6" y1="271.7" x2="74.1" y2="271.7" stroke="#333" stroke-width="0.6"/>
<text x="70.8" y="279.12" font-size="6.1" fill="#3c3c3c" text-anchor="end">CO:SW_620</text>
<line x1="71.6" y1="277.32" x2="74.1" y2="277.32" stroke="#333" stroke-width="0.6"/>
<text x="70.8" y="284.75" font-size="6.1" fill="#3c3c3c" text-anchor="end">LE:CCRF_CEM</text>
<line x1="71.6" y1="282.95" x2="74.1" y2="282.95" stroke="#333" stroke-width="0.6"/>
<text x="70.8" y="290.37" font-size="6.1" fill="#3c3c3c" text-anchor="end">LE:HL_60</text>
<line x1="71.6" y1="288.57" x2="74.1" y2="288.57" stroke="#333" stroke-width="0.6"/>
<text x="70.8" y="295.99" font-size="6.1" fill="#3c3c3c" text-anchor="end">LE:K_562</text>
<line x1="71.6" y1="294.19" x2="74.1" y2="294.19" stroke="#333" stroke-width="0.6"/>
<text x="70.8" y="301.61" font-size="6.1" fill="#3c3c3c" text-anchor="end">LE:MOLT_4</text>
<line x1="71.6" y1="299.81" x2="74.1" y2="299.81" stroke="#333" stroke-width="0.6"/>
<text x="70.8" y="307.23" font-size="6.1" fill="#3c3c3c" text-anchor="end">LE:RPMI_8226</text>
<line x1="71.6" y1="305.43" x2="74.1" y2="305.43" stroke="#333" stroke-width="0.6"/>
<text x="70.8" y="312.86" font-size="6.1" fill="#3c3c3c" text-anchor="end">LE:SR</text>
<line x1="71.6" y1="311.06" x2="74.1" y2="311.06" stroke="#333" stroke-width="0.6"/>
<text x="70.8" y="318.48" font-size="6.1" fill="#3c3c3c" text-anchor="end">ME:LOXIMVI</text>
<line x1="71.6" y1="316.68" x2="74.1" y2="316.68" stroke="#333" stroke-width="0.6"/>
<text x="70.8" y="324.1" font-size="6.1" fill="#3c3c3c" text-anchor="end">ME:MALME_3M</text>
<line x1="71.6" y1="322.3" x2="74.1" y2="322.3" stroke="#333" stroke-width="0.6"/>
<text x="70.8" y="329.72" font-size="6.1" fill="#3c3c3c" text-anchor="end">ME:M14</text>
<line x1="71.6" y1="327.92" x2="74.1" y2="327.92" stroke="#333" stroke-width="0.6"/>
<text x="70.8" y="335.34" font-size="6.1" fill="#3c3c3c" text-anchor="end">ME:SK_MEL_2</text>
<line x1="71.6" y1="333.54" x2="74.1" y2="333.54" stroke="#333" stroke-width="0.6"/>
<text x="70.8" y="340.97" font-size="6.1" fill="#3c3c3c" text-anchor="end">ME:SK_MEL_28</text>
<line x1="71.6" y1="339.17" x2="74.1" y2="339.17" stroke="#333" stroke-width="0.6"/>
<text x="70.8" y="346.59" font-size="6.1" fill="#3c3c3c" text-anchor="end">ME:SK_MEL_5</text>
<line x1="71.6" y1="344.79" x2="74.1" y2="344.79" stroke="#333" stroke-width="0.6"/>
<text x="70.8" y="352.21" font-size="6.1" fill="#3c3c3c" text-anchor="end">ME:UACC_257</text>
<line x1="71.6" y1="350.41" x2="74.1" y2="350.41" stroke="#333" stroke-width="0.6"/>
<text x="70.8" y="357.83" font-size="6.1" fill="#3c3c3c" text-anchor="end">ME:UACC_62</text>
<line x1="71.6" y1="356.03" x2="74.1" y2="356.03" stroke="#333" stroke-width="0.6"/>
<text x="70.8" y="363.45" font-size="6.1" fill="#3c3c3c" text-anchor="end">ME:MDA_MB_435</text>
<line x1="71.6" y1="361.65" x2="74.1" y2="361.65" stroke="#333" stroke-width="0.6"/>
<text x="70.8" y="369.08" font-size="6.1" fill="#3c3c3c" text-anchor="end">ME:MDA_N</text>
<line x1="71.6" y1="367.28" x2="74.1" y2="367.28" stroke="#333" stroke-width="0.6"/>
<text x="70.8" y="374.7" font-size="6.1" fill="#3c3c3c" text-anchor="end">LC:A549</text>
<line x1="71.6" y1="372.9" x2="74.1" y2="372.9" stroke="#333" stroke-width="0.6"/>
<text x="70.8" y="380.32" font-size="6.1" fill="#3c3c3c" text-anchor="end">LC:EKVX</text>
<line x1="71.6" y1="378.52" x2="74.1" y2="378.52" stroke="#333" stroke-width="0.6"/>
<text x="70.8" y="385.94" font-size="6.1" fill="#3c3c3c" text-anchor="end">LC:HOP_62</text>
<line x1="71.6" y1="384.14" x2="74.1" y2="384.14" stroke="#333" stroke-width="0.6"/>
<text x="70.8" y="391.56" font-size="6.1" fill="#3c3c3c" text-anchor="end">LC:HOP_92</text>
<line x1="71.6" y1="389.76" x2="74.1" y2="389.76" stroke="#333" stroke-width="0.6"/>
<text x="70.8" y="397.19" font-size="6.1" fill="#3c3c3c" text-anchor="end">LC:NCI_H226</text>
<line x1="71.6" y1="395.39" x2="74.1" y2="395.39" stroke="#333" stroke-width="0.6"/>
<text x="70.8" y="402.81" font-size="6.1" fill="#3c3c3c" text-anchor="end">LC:NCI_H23</text>
<line x1="71.6" y1="401.01" x2="74.1" y2="401.01" stroke="#333" stroke-width="0.6"/>
<text x="70.8" y="408.43" font-size="6.1" fill="#3c3c3c" text-anchor="end">LC:NCI_H322M</text>
<line x1="71.6" y1="406.63" x2="74.1" y2="406.63" stroke="#333" stroke-width="0.6"/>
<text x="70.8" y="414.05" font-size="6.1" fill="#3c3c3c" text-anchor="end">LC:NCI_H460</text>
<line x1="71.6" y1="412.25" x2="74.1" y2="412.25" stroke="#333" stroke-width="0.6"/>
<text x="70.8" y="419.67" font-size="6.1" fill="#3c3c3c" text-anchor="end">LC:NCI_H522</text>
<line x1="71.6" y1="417.87" x2="74.1" y2="417.87" stroke="#333" stroke-width="0.6"/>
<text x="70.8" y="425.3" font-size="6.1" fill="#3c3c3c" text-anchor="end">OV:IGROV1</text>
<line x1="71.6" y1="423.5" x2="74.1" y2="423.5" stroke="#333" stroke-width="0.6"/>
<text x="70.8" y="430.92" font-size="6.1" fill="#3c3c3c" text-anchor="end">OV:OVCAR_3</text>
<line x1="71.6" y1="429.12" x2="74.1" y2="429.12" stroke="#333" stroke-width="0.6"/>
<text x="70.8" y="436.54" font-size="6.1" fill="#3c3c3c" text-anchor="end">OV:OVCAR_4</text>
<line x1="71.6" y1="434.74" x2="74.1" y2="434.74" stroke="#333" stroke-width="0.6"/>
<text x="70.8" y="442.16" font-size="6.1" fill="#3c3c3c" text-anchor="end">OV:OVCAR_5</text>
<line x1="71.6" y1="440.36" x2="74.1" y2="440.36" stroke="#333" stroke-width="0.6"/>
<text x="70.8" y="447.78" font-size="6.1" fill="#3c3c3c" text-anchor="end">OV:OVCAR_8</text>
<line x1="71.6" y1="445.98" x2="74.1" y2="445.98" stroke="#333" stroke-width="0.6"/>
<text x="70.8" y="453.41" font-size="6.1" fill="#3c3c3c" text-anchor="end">OV:SK_OV_3</text>
<line x1="71.6" y1="451.61" x2="74.1" y2="451.61" stroke="#333" stroke-width="0.6"/>
<text x="70.8" y="459.03" font-size="6.1" fill="#3c3c3c" text-anchor="end">OV:NCI_ADR_RES</text>
<line x1="71.6" y1="457.23" x2="74.1" y2="457.23" stroke="#333" stroke-width="0.6"/>
<text x="70.8" y="464.65" font-size="6.1" fill="#3c3c3c" text-anchor="end">PR:PC_3</text>
<line x1="71.6" y1="462.85" x2="74.1" y2="462.85" stroke="#333" stroke-width="0.6"/>
<text x="70.8" y="470.27" font-size="6.1" fill="#3c3c3c" text-anchor="end">PR:DU_145</text>
<line x1="71.6" y1="468.47" x2="74.1" y2="468.47" stroke="#333" stroke-width="0.6"/>
<text x="70.8" y="475.89" font-size="6.1" fill="#3c3c3c" text-anchor="end">RE:786_0</text>
<line x1="71.6" y1="474.09" x2="74.1" y2="474.09" stroke="#333" stroke-width="0.6"/>
<text x="70.8" y="481.52" font-size="6.1" fill="#3c3c3c" text-anchor="end">RE:A498</text>
<line x1="71.6" y1="479.72" x2="74.1" y2="479.72" stroke="#333" stroke-width="0.6"/>
<text x="70.8" y="487.14" font-size="6.1" fill="#3c3c3c" text-anchor="end">RE:ACHN</text>
<line x1="71.6" y1="485.34" x2="74.1" y2="485.34" stroke="#333" stroke-width="0.6"/>
<text x="70.8" y="492.76" font-size="6.1" fill="#3c3c3c" text-anchor="end">RE:CAKI_1</text>
<line x1="71.6" y1="490.96" x2="74.1" y2="490.96" stroke="#333" stroke-width="0.6"/>
<text x="70.8" y="498.38" font-size="6.1" fill="#3c3c3c" text-anchor="end">RE:RXF_393</text>
<line x1="71.6" y1="496.58" x2="74.1" y2="496.58" stroke="#333" stroke-width="0.6"/>
<text x="70.8" y="504" font-size="6.1" fill="#3c3c3c" text-anchor="end">RE:SN12C</text>
<line x1="71.6" y1="502.2" x2="74.1" y2="502.2" stroke="#333" stroke-width="0.6"/>
<text x="70.8" y="509.63" font-size="6.1" fill="#3c3c3c" text-anchor="end">RE:TK_10</text>
<line x1="71.6" y1="507.83" x2="74.1" y2="507.83" stroke="#333" stroke-width="0.6"/>
<text x="70.8" y="515.25" font-size="6.1" fill="#3c3c3c" text-anchor="end">RE:UO_31</text>
<line x1="71.6" y1="513.45" x2="74.1" y2="513.45" stroke="#333" stroke-width="0.6"/>
<rect x="193.5" y="177.6" width="62.1" height="339" fill="#fef8ec"/>
<rect x="193.5" y="178.65" width="62.1" height="6.2" fill="#fffefb"/>
<rect x="193.5" y="179.85" width="62.1" height="3.8" fill="#1838c4" stroke="#0c1c60" stroke-width="0.8"/>
<rect x="194" y="180.55" width="61.1" height="1" fill="#fff" opacity="0.25"/>
<rect x="243.3" y="184.27" width="12.3" height="6.2" fill="#fffefb"/>
<rect x="243.3" y="185.47" width="12.3" height="3.8" fill="#1838c4" stroke="#0c1c60" stroke-width="0.8"/>
<rect x="243.8" y="186.17" width="11.3" height="1" fill="#fff" opacity="0.25"/>
<rect x="193.5" y="189.89" width="62.1" height="6.2" fill="#fffefb"/>
<rect x="193.5" y="191.09" width="62.1" height="3.8" fill="#1838c4" stroke="#0c1c60" stroke-width="0.8"/>
<rect x="194" y="191.79" width="61.1" height="1" fill="#fff" opacity="0.25"/>
<rect x="193.5" y="195.52" width="62.1" height="6.2" fill="#fffefb"/>
<rect x="193.5" y="196.72" width="62.1" height="3.8" fill="#1838c4" stroke="#0c1c60" stroke-width="0.8"/>
<rect x="194" y="197.42" width="61.1" height="1" fill="#fff" opacity="0.25"/>
<rect x="193.5" y="201.14" width="62.1" height="6.2" fill="#fffefb"/>
<rect x="193.5" y="202.34" width="62.1" height="3.8" fill="#1838c4" stroke="#0c1c60" stroke-width="0.8"/>
<rect x="194" y="203.04" width="61.1" height="1" fill="#fff" opacity="0.25"/>
<rect x="193.5" y="206.76" width="62.1" height="6.2" fill="#fffefb"/>
<rect x="193.5" y="207.96" width="62.1" height="3.8" fill="#adb5b4" stroke="#3a4040" stroke-width="0.8"/>
<rect x="194" y="208.66" width="61.1" height="1" fill="#fff" opacity="0.25"/>
<rect x="243.3" y="212.38" width="12.3" height="6.2" fill="#fffefb"/>
<rect x="243.3" y="213.58" width="12.3" height="3.8" fill="#adb5b4" stroke="#3a4040" stroke-width="0.8"/>
<rect x="243.8" y="214.28" width="11.3" height="1" fill="#fff" opacity="0.25"/>
<rect x="243.3" y="218" width="12.3" height="6.2" fill="#fffefb"/>
<rect x="243.3" y="219.2" width="12.3" height="3.8" fill="#adb5b4" stroke="#3a4040" stroke-width="0.8"/>
<rect x="243.8" y="219.9" width="11.3" height="1" fill="#fff" opacity="0.25"/>
<rect x="243.3" y="223.63" width="12.3" height="6.2" fill="#fffefb"/>
<rect x="243.3" y="224.83" width="12.3" height="3.8" fill="#adb5b4" stroke="#3a4040" stroke-width="0.8"/>
<rect x="243.8" y="225.53" width="11.3" height="1" fill="#fff" opacity="0.25"/>
<rect x="193.5" y="229.25" width="62.1" height="6.2" fill="#fffefb"/>
<rect x="193.5" y="230.45" width="62.1" height="3.8" fill="#adb5b4" stroke="#3a4040" stroke-width="0.8"/>
<rect x="194" y="231.15" width="61.1" height="1" fill="#fff" opacity="0.25"/>
<rect x="243.3" y="234.87" width="12.3" height="6.2" fill="#fffefb"/>
<rect x="243.3" y="236.07" width="12.3" height="3.8" fill="#adb5b4" stroke="#3a4040" stroke-width="0.8"/>
<rect x="243.8" y="236.77" width="11.3" height="1" fill="#fff" opacity="0.25"/>
<rect x="243.3" y="240.49" width="12.3" height="6.2" fill="#fffefb"/>
<rect x="243.3" y="241.69" width="12.3" height="3.8" fill="#f0881c" stroke="#6a3a08" stroke-width="0.8"/>
<rect x="243.8" y="242.39" width="11.3" height="1" fill="#fff" opacity="0.25"/>
<rect x="243.3" y="246.11" width="12.3" height="6.2" fill="#fffefb"/>
<rect x="243.3" y="247.31" width="12.3" height="3.8" fill="#f0881c" stroke="#6a3a08" stroke-width="0.8"/>
<rect x="243.8" y="248.01" width="11.3" height="1" fill="#fff" opacity="0.25"/>
<rect x="243.3" y="251.74" width="12.3" height="6.2" fill="#fffefb"/>
<rect x="243.3" y="252.94" width="12.3" height="3.8" fill="#f0881c" stroke="#6a3a08" stroke-width="0.8"/>
<rect x="243.8" y="253.64" width="11.3" height="1" fill="#fff" opacity="0.25"/>
<rect x="243.3" y="257.36" width="12.3" height="6.2" fill="#fffefb"/>
<rect x="243.3" y="258.56" width="12.3" height="3.8" fill="#f0881c" stroke="#6a3a08" stroke-width="0.8"/>
<rect x="243.8" y="259.26" width="11.3" height="1" fill="#fff" opacity="0.25"/>
<rect x="243.3" y="262.98" width="12.3" height="6.2" fill="#fffefb"/>
<rect x="243.3" y="264.18" width="12.3" height="3.8" fill="#f0881c" stroke="#6a3a08" stroke-width="0.8"/>
<rect x="243.8" y="264.88" width="11.3" height="1" fill="#fff" opacity="0.25"/>
<rect x="243.3" y="268.6" width="12.3" height="6.2" fill="#fffefb"/>
<rect x="243.3" y="269.8" width="12.3" height="3.8" fill="#f0881c" stroke="#6a3a08" stroke-width="0.8"/>
<rect x="243.8" y="270.5" width="11.3" height="1" fill="#fff" opacity="0.25"/>
<rect x="243.3" y="274.22" width="12.3" height="6.2" fill="#fffefb"/>
<rect x="243.3" y="275.42" width="12.3" height="3.8" fill="#f0881c" stroke="#6a3a08" stroke-width="0.8"/>
<rect x="243.8" y="276.12" width="11.3" height="1" fill="#fff" opacity="0.25"/>
<rect x="193.5" y="279.85" width="62.1" height="6.2" fill="#fffefb"/>
<rect x="193.5" y="281.05" width="62.1" height="3.8" fill="#96e6ac" stroke="#2e6a3e" stroke-width="0.8"/>
<rect x="194" y="281.75" width="61.1" height="1" fill="#fff" opacity="0.25"/>
<rect x="243.3" y="285.47" width="12.3" height="6.2" fill="#fffefb"/>
<rect x="243.3" y="286.67" width="12.3" height="3.8" fill="#96e6ac" stroke="#2e6a3e" stroke-width="0.8"/>
<rect x="243.8" y="287.37" width="11.3" height="1" fill="#fff" opacity="0.25"/>
<rect x="193.5" y="291.09" width="62.1" height="6.2" fill="#fffefb"/>
<rect x="193.5" y="292.29" width="62.1" height="3.8" fill="#96e6ac" stroke="#2e6a3e" stroke-width="0.8"/>
<rect x="194" y="292.99" width="61.1" height="1" fill="#fff" opacity="0.25"/>
<rect x="193.5" y="296.71" width="62.1" height="6.2" fill="#fffefb"/>
<rect x="193.5" y="297.91" width="62.1" height="3.8" fill="#96e6ac" stroke="#2e6a3e" stroke-width="0.8"/>
<rect x="194" y="298.61" width="61.1" height="1" fill="#fff" opacity="0.25"/>
<rect x="243.3" y="302.33" width="12.3" height="6.2" fill="#fffefb"/>
<rect x="243.3" y="303.53" width="12.3" height="3.8" fill="#96e6ac" stroke="#2e6a3e" stroke-width="0.8"/>
<rect x="243.8" y="304.23" width="11.3" height="1" fill="#fff" opacity="0.25"/>
<rect x="193.5" y="307.96" width="62.1" height="6.2" fill="#fffefb"/>
<rect x="193.5" y="309.16" width="62.1" height="3.8" fill="#96e6ac" stroke="#2e6a3e" stroke-width="0.8"/>
<rect x="194" y="309.86" width="61.1" height="1" fill="#fff" opacity="0.25"/>
<rect x="243.3" y="313.58" width="12.3" height="6.2" fill="#fffefb"/>
<rect x="243.3" y="314.78" width="12.3" height="3.8" fill="#2db42d" stroke="#0c4a0c" stroke-width="0.8"/>
<rect x="243.8" y="315.48" width="11.3" height="1" fill="#fff" opacity="0.25"/>
<rect x="243.3" y="319.2" width="12.3" height="6.2" fill="#fffefb"/>
<rect x="243.3" y="320.4" width="12.3" height="3.8" fill="#2db42d" stroke="#0c4a0c" stroke-width="0.8"/>
<rect x="243.8" y="321.1" width="11.3" height="1" fill="#fff" opacity="0.25"/>
<rect x="243.3" y="324.82" width="12.3" height="6.2" fill="#fffefb"/>
<rect x="243.3" y="326.02" width="12.3" height="3.8" fill="#2db42d" stroke="#0c4a0c" stroke-width="0.8"/>
<rect x="243.8" y="326.72" width="11.3" height="1" fill="#fff" opacity="0.25"/>
<rect x="243.3" y="330.44" width="12.3" height="6.2" fill="#fffefb"/>
<rect x="243.3" y="331.64" width="12.3" height="3.8" fill="#2db42d" stroke="#0c4a0c" stroke-width="0.8"/>
<rect x="243.8" y="332.34" width="11.3" height="1" fill="#fff" opacity="0.25"/>
<rect x="243.3" y="336.07" width="12.3" height="6.2" fill="#fffefb"/>
<rect x="243.3" y="337.27" width="12.3" height="3.8" fill="#2db42d" stroke="#0c4a0c" stroke-width="0.8"/>
<rect x="243.8" y="337.97" width="11.3" height="1" fill="#fff" opacity="0.25"/>
<rect x="243.3" y="341.69" width="12.3" height="6.2" fill="#fffefb"/>
<rect x="243.3" y="342.89" width="12.3" height="3.8" fill="#2db42d" stroke="#0c4a0c" stroke-width="0.8"/>
<rect x="243.8" y="343.59" width="11.3" height="1" fill="#fff" opacity="0.25"/>
<rect x="243.3" y="347.31" width="12.3" height="6.2" fill="#fffefb"/>
<rect x="243.3" y="348.51" width="12.3" height="3.8" fill="#2db42d" stroke="#0c4a0c" stroke-width="0.8"/>
<rect x="243.8" y="349.21" width="11.3" height="1" fill="#fff" opacity="0.25"/>
<rect x="243.3" y="352.93" width="12.3" height="6.2" fill="#fffefb"/>
<rect x="243.3" y="354.13" width="12.3" height="3.8" fill="#2db42d" stroke="#0c4a0c" stroke-width="0.8"/>
<rect x="243.8" y="354.83" width="11.3" height="1" fill="#fff" opacity="0.25"/>
<rect x="243.3" y="358.55" width="12.3" height="6.2" fill="#fffefb"/>
<rect x="243.3" y="359.75" width="12.3" height="3.8" fill="#2db42d" stroke="#0c4a0c" stroke-width="0.8"/>
<rect x="243.8" y="360.45" width="11.3" height="1" fill="#fff" opacity="0.25"/>
<rect x="243.3" y="364.18" width="12.3" height="6.2" fill="#fffefb"/>
<rect x="243.3" y="365.38" width="12.3" height="3.8" fill="#2db42d" stroke="#0c4a0c" stroke-width="0.8"/>
<rect x="243.8" y="366.08" width="11.3" height="1" fill="#fff" opacity="0.25"/>
<rect x="243.3" y="369.8" width="12.3" height="6.2" fill="#fffefb"/>
<rect x="243.3" y="371" width="12.3" height="3.8" fill="#4b8ede" stroke="#1c3c68" stroke-width="0.8"/>
<rect x="243.8" y="371.7" width="11.3" height="1" fill="#fff" opacity="0.25"/>
<rect x="193.5" y="375.42" width="62.1" height="6.2" fill="#fffefb"/>
<rect x="193.5" y="376.62" width="62.1" height="3.8" fill="#4b8ede" stroke="#1c3c68" stroke-width="0.8"/>
<rect x="194" y="377.32" width="61.1" height="1" fill="#fff" opacity="0.25"/>
<rect x="243.3" y="381.04" width="12.3" height="6.2" fill="#fffefb"/>
<rect x="243.3" y="382.24" width="12.3" height="3.8" fill="#4b8ede" stroke="#1c3c68" stroke-width="0.8"/>
<rect x="243.8" y="382.94" width="11.3" height="1" fill="#fff" opacity="0.25"/>
<rect x="193.5" y="386.66" width="62.1" height="6.2" fill="#fffefb"/>
<rect x="193.5" y="387.86" width="62.1" height="3.8" fill="#4b8ede" stroke="#1c3c68" stroke-width="0.8"/>
<rect x="194" y="388.56" width="61.1" height="1" fill="#fff" opacity="0.25"/>
<rect x="193.5" y="392.29" width="62.1" height="6.2" fill="#fffefb"/>
<rect x="193.5" y="393.49" width="62.1" height="3.8" fill="#4b8ede" stroke="#1c3c68" stroke-width="0.8"/>
<rect x="194" y="394.19" width="61.1" height="1" fill="#fff" opacity="0.25"/>
<rect x="243.3" y="397.91" width="12.3" height="6.2" fill="#fffefb"/>
<rect x="243.3" y="399.11" width="12.3" height="3.8" fill="#4b8ede" stroke="#1c3c68" stroke-width="0.8"/>
<rect x="243.8" y="399.81" width="11.3" height="1" fill="#fff" opacity="0.25"/>
<rect x="193.5" y="403.53" width="62.1" height="6.2" fill="#fffefb"/>
<rect x="193.5" y="404.73" width="62.1" height="3.8" fill="#4b8ede" stroke="#1c3c68" stroke-width="0.8"/>
<rect x="194" y="405.43" width="61.1" height="1" fill="#fff" opacity="0.25"/>
<rect x="243.3" y="409.15" width="12.3" height="6.2" fill="#fffefb"/>
<rect x="243.3" y="410.35" width="12.3" height="3.8" fill="#4b8ede" stroke="#1c3c68" stroke-width="0.8"/>
<rect x="243.8" y="411.05" width="11.3" height="1" fill="#fff" opacity="0.25"/>
<rect x="193.5" y="414.77" width="62.1" height="6.2" fill="#fffefb"/>
<rect x="193.5" y="415.97" width="62.1" height="3.8" fill="#4b8ede" stroke="#1c3c68" stroke-width="0.8"/>
<rect x="194" y="416.67" width="61.1" height="1" fill="#fff" opacity="0.25"/>
<rect x="243.3" y="420.4" width="12.3" height="6.2" fill="#fffefb"/>
<rect x="243.3" y="421.6" width="12.3" height="3.8" fill="#6a18c4" stroke="#2a0658" stroke-width="0.8"/>
<rect x="243.8" y="422.3" width="11.3" height="1" fill="#fff" opacity="0.25"/>
<rect x="193.5" y="426.02" width="62.1" height="6.2" fill="#fffefb"/>
<rect x="193.5" y="427.22" width="62.1" height="3.8" fill="#6a18c4" stroke="#2a0658" stroke-width="0.8"/>
<rect x="194" y="427.92" width="61.1" height="1" fill="#fff" opacity="0.25"/>
<rect x="193.5" y="431.64" width="62.1" height="6.2" fill="#fffefb"/>
<rect x="193.5" y="432.84" width="62.1" height="3.8" fill="#6a18c4" stroke="#2a0658" stroke-width="0.8"/>
<rect x="194" y="433.54" width="61.1" height="1" fill="#fff" opacity="0.25"/>
<rect x="243.3" y="437.26" width="12.3" height="6.2" fill="#fffefb"/>
<rect x="243.3" y="438.46" width="12.3" height="3.8" fill="#6a18c4" stroke="#2a0658" stroke-width="0.8"/>
<rect x="243.8" y="439.16" width="11.3" height="1" fill="#fff" opacity="0.25"/>
<rect x="193.5" y="442.88" width="62.1" height="6.2" fill="#fffefb"/>
<rect x="193.5" y="444.08" width="62.1" height="3.8" fill="#6a18c4" stroke="#2a0658" stroke-width="0.8"/>
<rect x="194" y="444.78" width="61.1" height="1" fill="#fff" opacity="0.25"/>
<rect x="193.5" y="448.51" width="62.1" height="6.2" fill="#fffefb"/>
<rect x="193.5" y="449.71" width="62.1" height="3.8" fill="#6a18c4" stroke="#2a0658" stroke-width="0.8"/>
<rect x="194" y="450.41" width="61.1" height="1" fill="#fff" opacity="0.25"/>
<rect x="193.5" y="454.13" width="62.1" height="6.2" fill="#fffefb"/>
<rect x="193.5" y="455.33" width="62.1" height="3.8" fill="#6a18c4" stroke="#2a0658" stroke-width="0.8"/>
<rect x="194" y="456.03" width="61.1" height="1" fill="#fff" opacity="0.25"/>
<rect x="243.3" y="459.75" width="12.3" height="6.2" fill="#fffefb"/>
<rect x="243.3" y="460.95" width="12.3" height="3.8" fill="#ecec28" stroke="#5a5a08" stroke-width="0.8"/>
<rect x="243.8" y="461.65" width="11.3" height="1" fill="#fff" opacity="0.25"/>
<rect x="193.5" y="465.37" width="62.1" height="6.2" fill="#fffefb"/>
<rect x="193.5" y="466.57" width="62.1" height="3.8" fill="#ecec28" stroke="#5a5a08" stroke-width="0.8"/>
<rect x="194" y="467.27" width="61.1" height="1" fill="#fff" opacity="0.25"/>
<rect x="243.3" y="470.99" width="12.3" height="6.2" fill="#fffefb"/>
<rect x="243.3" y="472.19" width="12.3" height="3.8" fill="#dc2414" stroke="#5a0a04" stroke-width="0.8"/>
<rect x="243.8" y="472.89" width="11.3" height="1" fill="#fff" opacity="0.25"/>
<rect x="193.5" y="476.62" width="62.1" height="6.2" fill="#fffefb"/>
<rect x="193.5" y="477.82" width="62.1" height="3.8" fill="#dc2414" stroke="#5a0a04" stroke-width="0.8"/>
<rect x="194" y="478.52" width="61.1" height="1" fill="#fff" opacity="0.25"/>
<rect x="193.5" y="482.24" width="62.1" height="6.2" fill="#fffefb"/>
<rect x="193.5" y="483.44" width="62.1" height="3.8" fill="#dc2414" stroke="#5a0a04" stroke-width="0.8"/>
<rect x="194" y="484.14" width="61.1" height="1" fill="#fff" opacity="0.25"/>
<rect x="193.5" y="487.86" width="62.1" height="6.2" fill="#fffefb"/>
<rect x="193.5" y="489.06" width="62.1" height="3.8" fill="#dc2414" stroke="#5a0a04" stroke-width="0.8"/>
<rect x="194" y="489.76" width="61.1" height="1" fill="#fff" opacity="0.25"/>
<rect x="243.3" y="493.48" width="12.3" height="6.2" fill="#fffefb"/>
<rect x="243.3" y="494.68" width="12.3" height="3.8" fill="#dc2414" stroke="#5a0a04" stroke-width="0.8"/>
<rect x="243.8" y="495.38" width="11.3" height="1" fill="#fff" opacity="0.25"/>
<rect x="193.5" y="499.1" width="62.1" height="6.2" fill="#fffefb"/>
<rect x="193.5" y="500.3" width="62.1" height="3.8" fill="#dc2414" stroke="#5a0a04" stroke-width="0.8"/>
<rect x="194" y="501" width="61.1" height="1" fill="#fff" opacity="0.25"/>
<rect x="193.5" y="504.73" width="62.1" height="6.2" fill="#fffefb"/>
<rect x="193.5" y="505.93" width="62.1" height="3.8" fill="#dc2414" stroke="#5a0a04" stroke-width="0.8"/>
<rect x="194" y="506.63" width="61.1" height="1" fill="#fff" opacity="0.25"/>
<rect x="193.5" y="510.35" width="62.1" height="6.2" fill="#fffefb"/>
<rect x="193.5" y="511.55" width="62.1" height="3.8" fill="#dc2414" stroke="#5a0a04" stroke-width="0.8"/>
<rect x="194" y="512.25" width="61.1" height="1" fill="#fff" opacity="0.25"/>
<line x1="243.3" y1="177.6" x2="243.3" y2="516.6" stroke="#555" stroke-width="0.6"/>
<line x1="193.5" y1="177.6" x2="255.6" y2="177.6" stroke="#888" stroke-width="0.8"/>
<line x1="193.5" y1="177.6" x2="193.5" y2="516.6" stroke="#222" stroke-width="0.9"/>
<line x1="193.5" y1="516.6" x2="255.6" y2="516.6" stroke="#222" stroke-width="0.9"/>
<line x1="255.6" y1="181.75" x2="257.6" y2="181.75" stroke="#333" stroke-width="0.6"/>
<line x1="255.6" y1="187.37" x2="257.6" y2="187.37" stroke="#333" stroke-width="0.6"/>
<line x1="255.6" y1="192.99" x2="257.6" y2="192.99" stroke="#333" stroke-width="0.6"/>
<line x1="255.6" y1="198.62" x2="257.6" y2="198.62" stroke="#333" stroke-width="0.6"/>
<line x1="255.6" y1="204.24" x2="257.6" y2="204.24" stroke="#333" stroke-width="0.6"/>
<line x1="255.6" y1="209.86" x2="257.6" y2="209.86" stroke="#333" stroke-width="0.6"/>
<line x1="255.6" y1="215.48" x2="257.6" y2="215.48" stroke="#333" stroke-width="0.6"/>
<line x1="255.6" y1="221.1" x2="257.6" y2="221.1" stroke="#333" stroke-width="0.6"/>
<line x1="255.6" y1="226.73" x2="257.6" y2="226.73" stroke="#333" stroke-width="0.6"/>
<line x1="255.6" y1="232.35" x2="257.6" y2="232.35" stroke="#333" stroke-width="0.6"/>
<line x1="255.6" y1="237.97" x2="257.6" y2="237.97" stroke="#333" stroke-width="0.6"/>
<line x1="255.6" y1="243.59" x2="257.6" y2="243.59" stroke="#333" stroke-width="0.6"/>
<line x1="255.6" y1="249.21" x2="257.6" y2="249.21" stroke="#333" stroke-width="0.6"/>
<line x1="255.6" y1="254.84" x2="257.6" y2="254.84" stroke="#333" stroke-width="0.6"/>
<line x1="255.6" y1="260.46" x2="257.6" y2="260.46" stroke="#333" stroke-width="0.6"/>
<line x1="255.6" y1="266.08" x2="257.6" y2="266.08" stroke="#333" stroke-width="0.6"/>
<line x1="255.6" y1="271.7" x2="257.6" y2="271.7" stroke="#333" stroke-width="0.6"/>
<line x1="255.6" y1="277.32" x2="257.6" y2="277.32" stroke="#333" stroke-width="0.6"/>
<line x1="255.6" y1="282.95" x2="257.6" y2="282.95" stroke="#333" stroke-width="0.6"/>
<line x1="255.6" y1="288.57" x2="257.6" y2="288.57" stroke="#333" stroke-width="0.6"/>
<line x1="255.6" y1="294.19" x2="257.6" y2="294.19" stroke="#333" stroke-width="0.6"/>
<line x1="255.6" y1="299.81" x2="257.6" y2="299.81" stroke="#333" stroke-width="0.6"/>
<line x1="255.6" y1="305.43" x2="257.6" y2="305.43" stroke="#333" stroke-width="0.6"/>
<line x1="255.6" y1="311.06" x2="257.6" y2="311.06" stroke="#333" stroke-width="0.6"/>
<line x1="255.6" y1="316.68" x2="257.6" y2="316.68" stroke="#333" stroke-width="0.6"/>
<line x1="255.6" y1="322.3" x2="257.6" y2="322.3" stroke="#333" stroke-width="0.6"/>
<line x1="255.6" y1="327.92" x2="257.6" y2="327.92" stroke="#333" stroke-width="0.6"/>
<line x1="255.6" y1="333.54" x2="257.6" y2="333.54" stroke="#333" stroke-width="0.6"/>
<line x1="255.6" y1="339.17" x2="257.6" y2="339.17" stroke="#333" stroke-width="0.6"/>
<line x1="255.6" y1="344.79" x2="257.6" y2="344.79" stroke="#333" stroke-width="0.6"/>
<line x1="255.6" y1="350.41" x2="257.6" y2="350.41" stroke="#333" stroke-width="0.6"/>
<line x1="255.6" y1="356.03" x2="257.6" y2="356.03" stroke="#333" stroke-width="0.6"/>
<line x1="255.6" y1="361.65" x2="257.6" y2="361.65" stroke="#333" stroke-width="0.6"/>
<line x1="255.6" y1="367.28" x2="257.6" y2="367.28" stroke="#333" stroke-width="0.6"/>
<line x1="255.6" y1="372.9" x2="257.6" y2="372.9" stroke="#333" stroke-width="0.6"/>
<line x1="255.6" y1="378.52" x2="257.6" y2="378.52" stroke="#333" stroke-width="0.6"/>
<line x1="255.6" y1="384.14" x2="257.6" y2="384.14" stroke="#333" stroke-width="0.6"/>
<line x1="255.6" y1="389.76" x2="257.6" y2="389.76" stroke="#333" stroke-width="0.6"/>
<line x1="255.6" y1="395.39" x2="257.6" y2="395.39" stroke="#333" stroke-width="0.6"/>
<line x1="255.6" y1="401.01" x2="257.6" y2="401.01" stroke="#333" stroke-width="0.6"/>
<line x1="255.6" y1="406.63" x2="257.6" y2="406.63" stroke="#333" stroke-width="0.6"/>
<line x1="255.6" y1="412.25" x2="257.6" y2="412.25" stroke="#333" stroke-width="0.6"/>
<line x1="255.6" y1="417.87" x2="257.6" y2="417.87" stroke="#333" stroke-width="0.6"/>
<line x1="255.6" y1="423.5" x2="257.6" y2="423.5" stroke="#333" stroke-width="0.6"/>
<line x1="255.6" y1="429.12" x2="257.6" y2="429.12" stroke="#333" stroke-width="0.6"/>
<line x1="255.6" y1="434.74" x2="257.6" y2="434.74" stroke="#333" stroke-width="0.6"/>
<line x1="255.6" y1="440.36" x2="257.6" y2="440.36" stroke="#333" stroke-width="0.6"/>
<line x1="255.6" y1="445.98" x2="257.6" y2="445.98" stroke="#333" stroke-width="0.6"/>
<line x1="255.6" y1="451.61" x2="257.6" y2="451.61" stroke="#333" stroke-width="0.6"/>
<line x1="255.6" y1="457.23" x2="257.6" y2="457.23" stroke="#333" stroke-width="0.6"/>
<line x1="255.6" y1="462.85" x2="257.6" y2="462.85" stroke="#333" stroke-width="0.6"/>
<line x1="255.6" y1="468.47" x2="257.6" y2="468.47" stroke="#333" stroke-width="0.6"/>
<line x1="255.6" y1="474.09" x2="257.6" y2="474.09" stroke="#333" stroke-width="0.6"/>
<line x1="255.6" y1="479.72" x2="257.6" y2="479.72" stroke="#333" stroke-width="0.6"/>
<line x1="255.6" y1="485.34" x2="257.6" y2="485.34" stroke="#333" stroke-width="0.6"/>
<line x1="255.6" y1="490.96" x2="257.6" y2="490.96" stroke="#333" stroke-width="0.6"/>
<line x1="255.6" y1="496.58" x2="257.6" y2="496.58" stroke="#333" stroke-width="0.6"/>
<line x1="255.6" y1="502.2" x2="257.6" y2="502.2" stroke="#333" stroke-width="0.6"/>
<line x1="255.6" y1="507.83" x2="257.6" y2="507.83" stroke="#333" stroke-width="0.6"/>
<line x1="255.6" y1="513.45" x2="257.6" y2="513.45" stroke="#333" stroke-width="0.6"/>
<line x1="195.5" y1="519.9" x2="238.5" y2="519.9" stroke="#333" stroke-width="0.7"/>
<path d="M194 519.9 L198 518.3 L198 521.5 Z" fill="#333"/>
<path d="M240.2 519.9 L236.2 518.3 L236.2 521.5 Z" fill="#333"/>
<line x1="243.3" y1="516.8" x2="243.3" y2="527.5" stroke="#555" stroke-width="0.6"/>
<text x="217.85" y="528.1" font-size="7.9" font-weight="normal" fill="#333" text-anchor="middle" textLength="12.3" lengthAdjust="spacingAndGlyphs">WT</text>
<text x="253.2" y="528.1" font-size="7.9" font-weight="normal" fill="#333" text-anchor="middle" textLength="15.6" lengthAdjust="spacingAndGlyphs">Mut</text>
<rect x="267.3" y="177.6" width="110.9" height="339" fill="#fef8ec"/>
<rect x="267.3" y="178.65" width="12.5" height="6.2" fill="#fffefb"/>
<rect x="267.3" y="179.85" width="12.5" height="3.8" fill="#1838c4" stroke="#0c1c60" stroke-width="0.8"/>
<rect x="267.8" y="180.55" width="11.5" height="1" fill="#fff" opacity="0.25"/>
<rect x="267.3" y="184.27" width="63.8" height="6.2" fill="#fffefb"/>
<rect x="267.3" y="185.47" width="63.8" height="3.8" fill="#1838c4" stroke="#0c1c60" stroke-width="0.8"/>
<rect x="267.8" y="186.17" width="62.8" height="1" fill="#fff" opacity="0.25"/>
<rect x="267.3" y="189.89" width="60.5" height="6.2" fill="#fffefb"/>
<rect x="267.3" y="191.09" width="60.5" height="3.8" fill="#1838c4" stroke="#0c1c60" stroke-width="0.8"/>
<rect x="267.8" y="191.79" width="59.5" height="1" fill="#fff" opacity="0.25"/>
<rect x="267.3" y="195.52" width="67.1" height="6.2" fill="#fffefb"/>
<rect x="267.3" y="196.72" width="67.1" height="3.8" fill="#1838c4" stroke="#0c1c60" stroke-width="0.8"/>
<rect x="267.8" y="197.42" width="66.1" height="1" fill="#fff" opacity="0.25"/>
<rect x="267.3" y="201.14" width="28.3" height="6.2" fill="#fffefb"/>
<rect x="267.3" y="202.34" width="28.3" height="3.8" fill="#1838c4" stroke="#0c1c60" stroke-width="0.8"/>
<rect x="267.8" y="203.04" width="27.3" height="1" fill="#fff" opacity="0.25"/>
<rect x="267.3" y="206.76" width="65.8" height="6.2" fill="#fffefb"/>
<rect x="267.3" y="207.96" width="65.8" height="3.8" fill="#adb5b4" stroke="#3a4040" stroke-width="0.8"/>
<rect x="267.8" y="208.66" width="64.8" height="1" fill="#fff" opacity="0.25"/>
<rect x="267.3" y="212.38" width="57.2" height="6.2" fill="#fffefb"/>
<rect x="267.3" y="213.58" width="57.2" height="3.8" fill="#adb5b4" stroke="#3a4040" stroke-width="0.8"/>
<rect x="267.8" y="214.28" width="56.2" height="1" fill="#fff" opacity="0.25"/>
<rect x="267.3" y="218" width="55.3" height="6.2" fill="#fffefb"/>
<rect x="267.3" y="219.2" width="55.3" height="3.8" fill="#adb5b4" stroke="#3a4040" stroke-width="0.8"/>
<rect x="267.8" y="219.9" width="54.3" height="1" fill="#fff" opacity="0.25"/>
<rect x="267.3" y="223.63" width="48.7" height="6.2" fill="#fffefb"/>
<rect x="267.3" y="224.83" width="48.7" height="3.8" fill="#adb5b4" stroke="#3a4040" stroke-width="0.8"/>
<rect x="267.8" y="225.53" width="47.7" height="1" fill="#fff" opacity="0.25"/>
<rect x="267.3" y="229.25" width="49.1" height="6.2" fill="#fffefb"/>
<rect x="267.3" y="230.45" width="49.1" height="3.8" fill="#adb5b4" stroke="#3a4040" stroke-width="0.8"/>
<rect x="267.8" y="231.15" width="48.1" height="1" fill="#fff" opacity="0.25"/>
<rect x="267.3" y="234.87" width="44.3" height="6.2" fill="#fffefb"/>
<rect x="267.3" y="236.07" width="44.3" height="3.8" fill="#adb5b4" stroke="#3a4040" stroke-width="0.8"/>
<rect x="267.8" y="236.77" width="43.3" height="1" fill="#fff" opacity="0.25"/>
<rect x="267.3" y="240.49" width="37.1" height="6.2" fill="#fffefb"/>
<rect x="267.3" y="241.69" width="37.1" height="3.8" fill="#f0881c" stroke="#6a3a08" stroke-width="0.8"/>
<rect x="267.8" y="242.39" width="36.1" height="1" fill="#fff" opacity="0.25"/>
<rect x="267.3" y="246.11" width="49.6" height="6.2" fill="#fffefb"/>
<rect x="267.3" y="247.31" width="49.6" height="3.8" fill="#f0881c" stroke="#6a3a08" stroke-width="0.8"/>
<rect x="267.8" y="248.01" width="48.6" height="1" fill="#fff" opacity="0.25"/>
<rect x="267.3" y="251.74" width="53" height="6.2" fill="#fffefb"/>
<rect x="267.3" y="252.94" width="53" height="3.8" fill="#f0881c" stroke="#6a3a08" stroke-width="0.8"/>
<rect x="267.8" y="253.64" width="52" height="1" fill="#fff" opacity="0.25"/>
<rect x="267.3" y="257.36" width="49.6" height="6.2" fill="#fffefb"/>
<rect x="267.3" y="258.56" width="49.6" height="3.8" fill="#f0881c" stroke="#6a3a08" stroke-width="0.8"/>
<rect x="267.8" y="259.26" width="48.6" height="1" fill="#fff" opacity="0.25"/>
<rect x="267.3" y="262.98" width="66.2" height="6.2" fill="#fffefb"/>
<rect x="267.3" y="264.18" width="66.2" height="3.8" fill="#f0881c" stroke="#6a3a08" stroke-width="0.8"/>
<rect x="267.8" y="264.88" width="65.2" height="1" fill="#fff" opacity="0.25"/>
<rect x="267.3" y="268.6" width="42.6" height="6.2" fill="#fffefb"/>
<rect x="267.3" y="269.8" width="42.6" height="3.8" fill="#f0881c" stroke="#6a3a08" stroke-width="0.8"/>
<rect x="267.8" y="270.5" width="41.6" height="1" fill="#fff" opacity="0.25"/>
<rect x="267.3" y="274.22" width="10.7" height="6.2" fill="#fffefb"/>
<rect x="267.3" y="275.42" width="10.7" height="3.8" fill="#f0881c" stroke="#6a3a08" stroke-width="0.8"/>
<rect x="267.8" y="276.12" width="9.7" height="1" fill="#fff" opacity="0.25"/>
<rect x="267.3" y="279.85" width="14.5" height="6.2" fill="#fffefb"/>
<rect x="267.3" y="281.05" width="14.5" height="3.8" fill="#96e6ac" stroke="#2e6a3e" stroke-width="0.8"/>
<rect x="267.8" y="281.75" width="13.5" height="1" fill="#fff" opacity="0.25"/>
<rect x="267.3" y="285.47" width="10.1" height="6.2" fill="#fffefb"/>
<rect x="267.3" y="286.67" width="10.1" height="3.8" fill="#96e6ac" stroke="#2e6a3e" stroke-width="0.8"/>
<rect x="267.8" y="287.37" width="9.1" height="1" fill="#fff" opacity="0.25"/>
<rect x="267.3" y="291.09" width="11.4" height="6.2" fill="#fffefb"/>
<rect x="267.3" y="292.29" width="11.4" height="3.8" fill="#96e6ac" stroke="#2e6a3e" stroke-width="0.8"/>
<rect x="267.8" y="292.99" width="10.4" height="1" fill="#fff" opacity="0.25"/>
<rect x="267.3" y="296.71" width="11.9" height="6.2" fill="#fffefb"/>
<rect x="267.3" y="297.91" width="11.9" height="3.8" fill="#96e6ac" stroke="#2e6a3e" stroke-width="0.8"/>
<rect x="267.8" y="298.61" width="10.9" height="1" fill="#fff" opacity="0.25"/>
<rect x="267.3" y="302.33" width="10.1" height="6.2" fill="#fffefb"/>
<rect x="267.3" y="303.53" width="10.1" height="3.8" fill="#96e6ac" stroke="#2e6a3e" stroke-width="0.8"/>
<rect x="267.8" y="304.23" width="9.1" height="1" fill="#fff" opacity="0.25"/>
<rect x="267.3" y="307.96" width="6.4" height="6.2" fill="#fffefb"/>
<rect x="267.3" y="309.16" width="6.4" height="3.8" fill="#96e6ac" stroke="#2e6a3e" stroke-width="0.8"/>
<rect x="267.8" y="309.86" width="5.4" height="1" fill="#fff" opacity="0.25"/>
<rect x="267.3" y="313.58" width="47.4" height="6.2" fill="#fffefb"/>
<rect x="267.3" y="314.78" width="47.4" height="3.8" fill="#2db42d" stroke="#0c4a0c" stroke-width="0.8"/>
<rect x="267.8" y="315.48" width="46.4" height="1" fill="#fff" opacity="0.25"/>
<rect x="267.3" y="319.2" width="6.4" height="6.2" fill="#fffefb"/>
<rect x="267.3" y="320.4" width="6.4" height="3.8" fill="#2db42d" stroke="#0c4a0c" stroke-width="0.8"/>
<rect x="267.8" y="321.1" width="5.4" height="1" fill="#fff" opacity="0.25"/>
<rect x="267.3" y="324.82" width="31.6" height="6.2" fill="#fffefb"/>
<rect x="267.3" y="326.02" width="31.6" height="3.8" fill="#2db42d" stroke="#0c4a0c" stroke-width="0.8"/>
<rect x="267.8" y="326.72" width="30.6" height="1" fill="#fff" opacity="0.25"/>
<rect x="267.3" y="330.44" width="8.6" height="6.2" fill="#fffefb"/>
<rect x="267.3" y="331.64" width="8.6" height="3.8" fill="#2db42d" stroke="#0c4a0c" stroke-width="0.8"/>
<rect x="267.8" y="332.34" width="7.6" height="1" fill="#fff" opacity="0.25"/>
<rect x="267.3" y="336.07" width="9.2" height="6.2" fill="#fffefb"/>
<rect x="267.3" y="337.27" width="9.2" height="3.8" fill="#2db42d" stroke="#0c4a0c" stroke-width="0.8"/>
<rect x="267.8" y="337.97" width="8.2" height="1" fill="#fff" opacity="0.25"/>
<rect x="267.3" y="341.69" width="37.7" height="6.2" fill="#fffefb"/>
<rect x="267.3" y="342.89" width="37.7" height="3.8" fill="#2db42d" stroke="#0c4a0c" stroke-width="0.8"/>
<rect x="267.8" y="343.59" width="36.7" height="1" fill="#fff" opacity="0.25"/>
<rect x="267.3" y="347.31" width="8.6" height="6.2" fill="#fffefb"/>
<rect x="267.3" y="348.51" width="8.6" height="3.8" fill="#2db42d" stroke="#0c4a0c" stroke-width="0.8"/>
<rect x="267.8" y="349.21" width="7.6" height="1" fill="#fff" opacity="0.25"/>
<rect x="267.3" y="352.93" width="35.5" height="6.2" fill="#fffefb"/>
<rect x="267.3" y="354.13" width="35.5" height="3.8" fill="#2db42d" stroke="#0c4a0c" stroke-width="0.8"/>
<rect x="267.8" y="354.83" width="34.5" height="1" fill="#fff" opacity="0.25"/>
<rect x="267.3" y="358.55" width="14" height="6.2" fill="#fffefb"/>
<rect x="267.3" y="359.75" width="14" height="3.8" fill="#2db42d" stroke="#0c4a0c" stroke-width="0.8"/>
<rect x="267.8" y="360.45" width="13" height="1" fill="#fff" opacity="0.25"/>
<rect x="267.3" y="364.18" width="11.4" height="6.2" fill="#fffefb"/>
<rect x="267.3" y="365.38" width="11.4" height="3.8" fill="#2db42d" stroke="#0c4a0c" stroke-width="0.8"/>
<rect x="267.8" y="366.08" width="10.4" height="1" fill="#fff" opacity="0.25"/>
<rect x="267.3" y="369.8" width="59.4" height="6.2" fill="#fffefb"/>
<rect x="267.3" y="371" width="59.4" height="3.8" fill="#4b8ede" stroke="#1c3c68" stroke-width="0.8"/>
<rect x="267.8" y="371.7" width="58.4" height="1" fill="#fff" opacity="0.25"/>
<rect x="267.3" y="375.42" width="69.3" height="6.2" fill="#fffefb"/>
<rect x="267.3" y="376.62" width="69.3" height="3.8" fill="#4b8ede" stroke="#1c3c68" stroke-width="0.8"/>
<rect x="267.8" y="377.32" width="68.3" height="1" fill="#fff" opacity="0.25"/>
<rect x="267.3" y="381.04" width="57.2" height="6.2" fill="#fffefb"/>
<rect x="267.3" y="382.24" width="57.2" height="3.8" fill="#4b8ede" stroke="#1c3c68" stroke-width="0.8"/>
<rect x="267.8" y="382.94" width="56.2" height="1" fill="#fff" opacity="0.25"/>
<rect x="267.3" y="386.66" width="64.5" height="6.2" fill="#fffefb"/>
<rect x="267.3" y="387.86" width="64.5" height="3.8" fill="#4b8ede" stroke="#1c3c68" stroke-width="0.8"/>
<rect x="267.8" y="388.56" width="63.5" height="1" fill="#fff" opacity="0.25"/>
<rect x="267.3" y="392.29" width="80.3" height="6.2" fill="#fffefb"/>
<rect x="267.3" y="393.49" width="80.3" height="3.8" fill="#4b8ede" stroke="#1c3c68" stroke-width="0.8"/>
<rect x="267.8" y="394.19" width="79.3" height="1" fill="#fff" opacity="0.25"/>
<rect x="267.3" y="397.91" width="37.1" height="6.2" fill="#fffefb"/>
<rect x="267.3" y="399.11" width="37.1" height="3.8" fill="#4b8ede" stroke="#1c3c68" stroke-width="0.8"/>
<rect x="267.8" y="399.81" width="36.1" height="1" fill="#fff" opacity="0.25"/>
<rect x="267.3" y="403.53" width="70" height="6.2" fill="#fffefb"/>
<rect x="267.3" y="404.73" width="70" height="3.8" fill="#4b8ede" stroke="#1c3c68" stroke-width="0.8"/>
<rect x="267.8" y="405.43" width="69" height="1" fill="#fff" opacity="0.25"/>
<rect x="267.3" y="409.15" width="45.2" height="6.2" fill="#fffefb"/>
<rect x="267.3" y="410.35" width="45.2" height="3.8" fill="#4b8ede" stroke="#1c3c68" stroke-width="0.8"/>
<rect x="267.8" y="411.05" width="44.2" height="1" fill="#fff" opacity="0.25"/>
<rect x="267.3" y="414.77" width="16.2" height="6.2" fill="#fffefb"/>
<rect x="267.3" y="415.97" width="16.2" height="3.8" fill="#4b8ede" stroke="#1c3c68" stroke-width="0.8"/>
<rect x="267.8" y="416.67" width="15.2" height="1" fill="#fff" opacity="0.25"/>
<rect x="267.3" y="420.4" width="54.6" height="6.2" fill="#fffefb"/>
<rect x="267.3" y="421.6" width="54.6" height="3.8" fill="#6a18c4" stroke="#2a0658" stroke-width="0.8"/>
<rect x="267.8" y="422.3" width="53.6" height="1" fill="#fff" opacity="0.25"/>
<rect x="267.3" y="426.02" width="57.9" height="6.2" fill="#fffefb"/>
<rect x="267.3" y="427.22" width="57.9" height="3.8" fill="#6a18c4" stroke="#2a0658" stroke-width="0.8"/>
<rect x="267.8" y="427.92" width="56.9" height="1" fill="#fff" opacity="0.25"/>
<rect x="267.3" y="431.64" width="63.8" height="6.2" fill="#fffefb"/>
<rect x="267.3" y="432.84" width="63.8" height="3.8" fill="#6a18c4" stroke="#2a0658" stroke-width="0.8"/>
<rect x="267.8" y="433.54" width="62.8" height="1" fill="#fff" opacity="0.25"/>
<rect x="267.3" y="437.26" width="91.9" height="6.2" fill="#fffefb"/>
<rect x="267.3" y="438.46" width="91.9" height="3.8" fill="#6a18c4" stroke="#2a0658" stroke-width="0.8"/>
<rect x="267.8" y="439.16" width="90.9" height="1" fill="#fff" opacity="0.25"/>
<rect x="267.3" y="442.88" width="72.8" height="6.2" fill="#fffefb"/>
<rect x="267.3" y="444.08" width="72.8" height="3.8" fill="#6a18c4" stroke="#2a0658" stroke-width="0.8"/>
<rect x="267.8" y="444.78" width="71.8" height="1" fill="#fff" opacity="0.25"/>
<rect x="267.3" y="448.51" width="82" height="6.2" fill="#fffefb"/>
<rect x="267.3" y="449.71" width="82" height="3.8" fill="#6a18c4" stroke="#2a0658" stroke-width="0.8"/>
<rect x="267.8" y="450.41" width="81" height="1" fill="#fff" opacity="0.25"/>
<rect x="267.3" y="454.13" width="65.1" height="6.2" fill="#fffefb"/>
<rect x="267.3" y="455.33" width="65.1" height="3.8" fill="#6a18c4" stroke="#2a0658" stroke-width="0.8"/>
<rect x="267.8" y="456.03" width="64.1" height="1" fill="#fff" opacity="0.25"/>
<rect x="267.3" y="459.75" width="70.4" height="6.2" fill="#fffefb"/>
<rect x="267.3" y="460.95" width="70.4" height="3.8" fill="#ecec28" stroke="#5a5a08" stroke-width="0.8"/>
<rect x="267.8" y="461.65" width="69.4" height="1" fill="#fff" opacity="0.25"/>
<rect x="267.3" y="465.37" width="73.2" height="6.2" fill="#fffefb"/>
<rect x="267.3" y="466.57" width="73.2" height="3.8" fill="#ecec28" stroke="#5a5a08" stroke-width="0.8"/>
<rect x="267.8" y="467.27" width="72.2" height="1" fill="#fff" opacity="0.25"/>
<rect x="267.3" y="470.99" width="78.1" height="6.2" fill="#fffefb"/>
<rect x="267.3" y="472.19" width="78.1" height="3.8" fill="#dc2414" stroke="#5a0a04" stroke-width="0.8"/>
<rect x="267.8" y="472.89" width="77.1" height="1" fill="#fff" opacity="0.25"/>
<rect x="267.3" y="476.62" width="79.7" height="6.2" fill="#fffefb"/>
<rect x="267.3" y="477.82" width="79.7" height="3.8" fill="#dc2414" stroke="#5a0a04" stroke-width="0.8"/>
<rect x="267.8" y="478.52" width="78.7" height="1" fill="#fff" opacity="0.25"/>
<rect x="267.3" y="482.24" width="82.5" height="6.2" fill="#fffefb"/>
<rect x="267.3" y="483.44" width="82.5" height="3.8" fill="#dc2414" stroke="#5a0a04" stroke-width="0.8"/>
<rect x="267.8" y="484.14" width="81.5" height="1" fill="#fff" opacity="0.25"/>
<rect x="267.3" y="487.86" width="60.1" height="6.2" fill="#fffefb"/>
<rect x="267.3" y="489.06" width="60.1" height="3.8" fill="#dc2414" stroke="#5a0a04" stroke-width="0.8"/>
<rect x="267.8" y="489.76" width="59.1" height="1" fill="#fff" opacity="0.25"/>
<rect x="267.3" y="493.48" width="80.9" height="6.2" fill="#fffefb"/>
<rect x="267.3" y="494.68" width="80.9" height="3.8" fill="#dc2414" stroke="#5a0a04" stroke-width="0.8"/>
<rect x="267.8" y="495.38" width="79.9" height="1" fill="#fff" opacity="0.25"/>
<rect x="267.3" y="499.1" width="100.2" height="6.2" fill="#fffefb"/>
<rect x="267.3" y="500.3" width="100.2" height="3.8" fill="#dc2414" stroke="#5a0a04" stroke-width="0.8"/>
<rect x="267.8" y="501" width="99.2" height="1" fill="#fff" opacity="0.25"/>
<rect x="267.3" y="504.73" width="88.2" height="6.2" fill="#fffefb"/>
<rect x="267.3" y="505.93" width="88.2" height="3.8" fill="#dc2414" stroke="#5a0a04" stroke-width="0.8"/>
<rect x="267.8" y="506.63" width="87.2" height="1" fill="#fff" opacity="0.25"/>
<rect x="267.3" y="510.35" width="83.3" height="6.2" fill="#fffefb"/>
<rect x="267.3" y="511.55" width="83.3" height="3.8" fill="#dc2414" stroke="#5a0a04" stroke-width="0.8"/>
<rect x="267.8" y="512.25" width="82.3" height="1" fill="#fff" opacity="0.25"/>
<line x1="285.78" y1="177.6" x2="285.78" y2="516.6" stroke="#444" stroke-width="0.85" stroke-dasharray="1 0.9" opacity="0.8"/>
<line x1="304.26" y1="177.6" x2="304.26" y2="516.6" stroke="#444" stroke-width="0.85" stroke-dasharray="1 0.9" opacity="0.8"/>
<line x1="322.74" y1="177.6" x2="322.74" y2="516.6" stroke="#444" stroke-width="0.85" stroke-dasharray="1 0.9" opacity="0.8"/>
<line x1="341.22" y1="177.6" x2="341.22" y2="516.6" stroke="#444" stroke-width="0.85" stroke-dasharray="1 0.9" opacity="0.8"/>
<line x1="359.7" y1="177.6" x2="359.7" y2="516.6" stroke="#444" stroke-width="0.85" stroke-dasharray="1 0.9" opacity="0.8"/>
<rect x="267.3" y="177.6" width="110.9" height="339" fill="none" stroke="#222" stroke-width="0.9"/>
<line x1="265.3" y1="181.75" x2="267.3" y2="181.75" stroke="#333" stroke-width="0.6"/>
<line x1="265.3" y1="187.37" x2="267.3" y2="187.37" stroke="#333" stroke-width="0.6"/>
<line x1="265.3" y1="192.99" x2="267.3" y2="192.99" stroke="#333" stroke-width="0.6"/>
<line x1="265.3" y1="198.62" x2="267.3" y2="198.62" stroke="#333" stroke-width="0.6"/>
<line x1="265.3" y1="204.24" x2="267.3" y2="204.24" stroke="#333" stroke-width="0.6"/>
<line x1="265.3" y1="209.86" x2="267.3" y2="209.86" stroke="#333" stroke-width="0.6"/>
<line x1="265.3" y1="215.48" x2="267.3" y2="215.48" stroke="#333" stroke-width="0.6"/>
<line x1="265.3" y1="221.1" x2="267.3" y2="221.1" stroke="#333" stroke-width="0.6"/>
<line x1="265.3" y1="226.73" x2="267.3" y2="226.73" stroke="#333" stroke-width="0.6"/>
<line x1="265.3" y1="232.35" x2="267.3" y2="232.35" stroke="#333" stroke-width="0.6"/>
<line x1="265.3" y1="237.97" x2="267.3" y2="237.97" stroke="#333" stroke-width="0.6"/>
<line x1="265.3" y1="243.59" x2="267.3" y2="243.59" stroke="#333" stroke-width="0.6"/>
<line x1="265.3" y1="249.21" x2="267.3" y2="249.21" stroke="#333" stroke-width="0.6"/>
<line x1="265.3" y1="254.84" x2="267.3" y2="254.84" stroke="#333" stroke-width="0.6"/>
<line x1="265.3" y1="260.46" x2="267.3" y2="260.46" stroke="#333" stroke-width="0.6"/>
<line x1="265.3" y1="266.08" x2="267.3" y2="266.08" stroke="#333" stroke-width="0.6"/>
<line x1="265.3" y1="271.7" x2="267.3" y2="271.7" stroke="#333" stroke-width="0.6"/>
<line x1="265.3" y1="277.32" x2="267.3" y2="277.32" stroke="#333" stroke-width="0.6"/>
<line x1="265.3" y1="282.95" x2="267.3" y2="282.95" stroke="#333" stroke-width="0.6"/>
<line x1="265.3" y1="288.57" x2="267.3" y2="288.57" stroke="#333" stroke-width="0.6"/>
<line x1="265.3" y1="294.19" x2="267.3" y2="294.19" stroke="#333" stroke-width="0.6"/>
<line x1="265.3" y1="299.81" x2="267.3" y2="299.81" stroke="#333" stroke-width="0.6"/>
<line x1="265.3" y1="305.43" x2="267.3" y2="305.43" stroke="#333" stroke-width="0.6"/>
<line x1="265.3" y1="311.06" x2="267.3" y2="311.06" stroke="#333" stroke-width="0.6"/>
<line x1="265.3" y1="316.68" x2="267.3" y2="316.68" stroke="#333" stroke-width="0.6"/>
<line x1="265.3" y1="322.3" x2="267.3" y2="322.3" stroke="#333" stroke-width="0.6"/>
<line x1="265.3" y1="327.92" x2="267.3" y2="327.92" stroke="#333" stroke-width="0.6"/>
<line x1="265.3" y1="333.54" x2="267.3" y2="333.54" stroke="#333" stroke-width="0.6"/>
<line x1="265.3" y1="339.17" x2="267.3" y2="339.17" stroke="#333" stroke-width="0.6"/>
<line x1="265.3" y1="344.79" x2="267.3" y2="344.79" stroke="#333" stroke-width="0.6"/>
<line x1="265.3" y1="350.41" x2="267.3" y2="350.41" stroke="#333" stroke-width="0.6"/>
<line x1="265.3" y1="356.03" x2="267.3" y2="356.03" stroke="#333" stroke-width="0.6"/>
<line x1="265.3" y1="361.65" x2="267.3" y2="361.65" stroke="#333" stroke-width="0.6"/>
<line x1="265.3" y1="367.28" x2="267.3" y2="367.28" stroke="#333" stroke-width="0.6"/>
<line x1="265.3" y1="372.9" x2="267.3" y2="372.9" stroke="#333" stroke-width="0.6"/>
<line x1="265.3" y1="378.52" x2="267.3" y2="378.52" stroke="#333" stroke-width="0.6"/>
<line x1="265.3" y1="384.14" x2="267.3" y2="384.14" stroke="#333" stroke-width="0.6"/>
<line x1="265.3" y1="389.76" x2="267.3" y2="389.76" stroke="#333" stroke-width="0.6"/>
<line x1="265.3" y1="395.39" x2="267.3" y2="395.39" stroke="#333" stroke-width="0.6"/>
<line x1="265.3" y1="401.01" x2="267.3" y2="401.01" stroke="#333" stroke-width="0.6"/>
<line x1="265.3" y1="406.63" x2="267.3" y2="406.63" stroke="#333" stroke-width="0.6"/>
<line x1="265.3" y1="412.25" x2="267.3" y2="412.25" stroke="#333" stroke-width="0.6"/>
<line x1="265.3" y1="417.87" x2="267.3" y2="417.87" stroke="#333" stroke-width="0.6"/>
<line x1="265.3" y1="423.5" x2="267.3" y2="423.5" stroke="#333" stroke-width="0.6"/>
<line x1="265.3" y1="429.12" x2="267.3" y2="429.12" stroke="#333" stroke-width="0.6"/>
<line x1="265.3" y1="434.74" x2="267.3" y2="434.74" stroke="#333" stroke-width="0.6"/>
<line x1="265.3" y1="440.36" x2="267.3" y2="440.36" stroke="#333" stroke-width="0.6"/>
<line x1="265.3" y1="445.98" x2="267.3" y2="445.98" stroke="#333" stroke-width="0.6"/>
<line x1="265.3" y1="451.61" x2="267.3" y2="451.61" stroke="#333" stroke-width="0.6"/>
<line x1="265.3" y1="457.23" x2="267.3" y2="457.23" stroke="#333" stroke-width="0.6"/>
<line x1="265.3" y1="462.85" x2="267.3" y2="462.85" stroke="#333" stroke-width="0.6"/>
<line x1="265.3" y1="468.47" x2="267.3" y2="468.47" stroke="#333" stroke-width="0.6"/>
<line x1="265.3" y1="474.09" x2="267.3" y2="474.09" stroke="#333" stroke-width="0.6"/>
<line x1="265.3" y1="479.72" x2="267.3" y2="479.72" stroke="#333" stroke-width="0.6"/>
<line x1="265.3" y1="485.34" x2="267.3" y2="485.34" stroke="#333" stroke-width="0.6"/>
<line x1="265.3" y1="490.96" x2="267.3" y2="490.96" stroke="#333" stroke-width="0.6"/>
<line x1="265.3" y1="496.58" x2="267.3" y2="496.58" stroke="#333" stroke-width="0.6"/>
<line x1="265.3" y1="502.2" x2="267.3" y2="502.2" stroke="#333" stroke-width="0.6"/>
<line x1="265.3" y1="507.83" x2="267.3" y2="507.83" stroke="#333" stroke-width="0.6"/>
<line x1="265.3" y1="513.45" x2="267.3" y2="513.45" stroke="#333" stroke-width="0.6"/>
<line x1="267.3" y1="516.6" x2="267.3" y2="519.6" stroke="#333" stroke-width="0.7"/>
<text x="267.3" y="527.3" font-size="6.6" font-weight="normal" fill="#3a3a3a" text-anchor="middle">4</text>
<line x1="285.78" y1="516.6" x2="285.78" y2="519.6" stroke="#333" stroke-width="0.7"/>
<text x="285.78" y="527.3" font-size="6.6" font-weight="normal" fill="#3a3a3a" text-anchor="middle">5</text>
<line x1="304.26" y1="516.6" x2="304.26" y2="519.6" stroke="#333" stroke-width="0.7"/>
<text x="304.26" y="527.3" font-size="6.6" font-weight="normal" fill="#3a3a3a" text-anchor="middle">6</text>
<line x1="322.74" y1="516.6" x2="322.74" y2="519.6" stroke="#333" stroke-width="0.7"/>
<text x="322.74" y="527.3" font-size="6.6" font-weight="normal" fill="#3a3a3a" text-anchor="middle">7</text>
<line x1="341.22" y1="516.6" x2="341.22" y2="519.6" stroke="#333" stroke-width="0.7"/>
<text x="341.22" y="527.3" font-size="6.6" font-weight="normal" fill="#3a3a3a" text-anchor="middle">8</text>
<line x1="359.7" y1="516.6" x2="359.7" y2="519.6" stroke="#333" stroke-width="0.7"/>
<text x="359.7" y="527.3" font-size="6.6" font-weight="normal" fill="#3a3a3a" text-anchor="middle">9</text>
<line x1="378.18" y1="516.6" x2="378.18" y2="519.6" stroke="#333" stroke-width="0.7"/>
<text x="378.18" y="527.3" font-size="6.6" font-weight="normal" fill="#3a3a3a" text-anchor="middle">10</text>
<rect x="390.2" y="177.6" width="111.15" height="339" fill="#fef8ec"/>
<rect x="390.2" y="178.65" width="52.6" height="6.2" fill="#fffefb"/>
<rect x="390.2" y="179.85" width="52.6" height="3.8" fill="#1838c4" stroke="#0c1c60" stroke-width="0.8"/>
<rect x="390.7" y="180.55" width="51.6" height="1" fill="#fff" opacity="0.25"/>
<rect x="390.2" y="184.27" width="44.5" height="6.2" fill="#fffefb"/>
<rect x="390.2" y="185.47" width="44.5" height="3.8" fill="#1838c4" stroke="#0c1c60" stroke-width="0.8"/>
<rect x="390.7" y="186.17" width="43.5" height="1" fill="#fff" opacity="0.25"/>
<rect x="390.2" y="189.89" width="37.9" height="6.2" fill="#fffefb"/>
<rect x="390.2" y="191.09" width="37.9" height="3.8" fill="#1838c4" stroke="#0c1c60" stroke-width="0.8"/>
<rect x="390.7" y="191.79" width="36.9" height="1" fill="#fff" opacity="0.25"/>
<rect x="390.2" y="195.52" width="37.9" height="6.2" fill="#fffefb"/>
<rect x="390.2" y="196.72" width="37.9" height="3.8" fill="#1838c4" stroke="#0c1c60" stroke-width="0.8"/>
<rect x="390.7" y="197.42" width="36.9" height="1" fill="#fff" opacity="0.25"/>
<rect x="390.2" y="201.14" width="66.4" height="6.2" fill="#fffefb"/>
<rect x="390.2" y="202.34" width="66.4" height="3.8" fill="#1838c4" stroke="#0c1c60" stroke-width="0.8"/>
<rect x="390.7" y="203.04" width="65.4" height="1" fill="#fff" opacity="0.25"/>
<rect x="390.2" y="206.76" width="45.4" height="6.2" fill="#fffefb"/>
<rect x="390.2" y="207.96" width="45.4" height="3.8" fill="#adb5b4" stroke="#3a4040" stroke-width="0.8"/>
<rect x="390.7" y="208.66" width="44.4" height="1" fill="#fff" opacity="0.25"/>
<rect x="390.2" y="212.38" width="42.8" height="6.2" fill="#fffefb"/>
<rect x="390.2" y="213.58" width="42.8" height="3.8" fill="#adb5b4" stroke="#3a4040" stroke-width="0.8"/>
<rect x="390.7" y="214.28" width="41.8" height="1" fill="#fff" opacity="0.25"/>
<rect x="390.2" y="218" width="14.9" height="6.2" fill="#fffefb"/>
<rect x="390.2" y="219.2" width="14.9" height="3.8" fill="#adb5b4" stroke="#3a4040" stroke-width="0.8"/>
<rect x="390.7" y="219.9" width="13.9" height="1" fill="#fff" opacity="0.25"/>
<rect x="390.2" y="223.63" width="34" height="6.2" fill="#fffefb"/>
<rect x="390.2" y="224.83" width="34" height="3.8" fill="#adb5b4" stroke="#3a4040" stroke-width="0.8"/>
<rect x="390.7" y="225.53" width="33" height="1" fill="#fff" opacity="0.25"/>
<rect x="390.2" y="229.25" width="51.5" height="6.2" fill="#fffefb"/>
<rect x="390.2" y="230.45" width="51.5" height="3.8" fill="#adb5b4" stroke="#3a4040" stroke-width="0.8"/>
<rect x="390.7" y="231.15" width="50.5" height="1" fill="#fff" opacity="0.25"/>
<rect x="390.2" y="234.87" width="29.6" height="6.2" fill="#fffefb"/>
<rect x="390.2" y="236.07" width="29.6" height="3.8" fill="#adb5b4" stroke="#3a4040" stroke-width="0.8"/>
<rect x="390.7" y="236.77" width="28.6" height="1" fill="#fff" opacity="0.25"/>
<rect x="390.2" y="240.49" width="64.7" height="6.2" fill="#fffefb"/>
<rect x="390.2" y="241.69" width="64.7" height="3.8" fill="#f0881c" stroke="#6a3a08" stroke-width="0.8"/>
<rect x="390.7" y="242.39" width="63.7" height="1" fill="#fff" opacity="0.25"/>
<rect x="390.2" y="246.11" width="57.4" height="6.2" fill="#fffefb"/>
<rect x="390.2" y="247.31" width="57.4" height="3.8" fill="#f0881c" stroke="#6a3a08" stroke-width="0.8"/>
<rect x="390.7" y="248.01" width="56.4" height="1" fill="#fff" opacity="0.25"/>
<rect x="390.2" y="251.74" width="46.5" height="6.2" fill="#fffefb"/>
<rect x="390.2" y="252.94" width="46.5" height="3.8" fill="#f0881c" stroke="#6a3a08" stroke-width="0.8"/>
<rect x="390.7" y="253.64" width="45.5" height="1" fill="#fff" opacity="0.25"/>
<rect x="390.2" y="257.36" width="60.3" height="6.2" fill="#fffefb"/>
<rect x="390.2" y="258.56" width="60.3" height="3.8" fill="#f0881c" stroke="#6a3a08" stroke-width="0.8"/>
<rect x="390.7" y="259.26" width="59.3" height="1" fill="#fff" opacity="0.25"/>
<rect x="390.2" y="262.98" width="57.4" height="6.2" fill="#fffefb"/>
<rect x="390.2" y="264.18" width="57.4" height="3.8" fill="#f0881c" stroke="#6a3a08" stroke-width="0.8"/>
<rect x="390.7" y="264.88" width="56.4" height="1" fill="#fff" opacity="0.25"/>
<rect x="390.2" y="268.6" width="53.1" height="6.2" fill="#fffefb"/>
<rect x="390.2" y="269.8" width="53.1" height="3.8" fill="#f0881c" stroke="#6a3a08" stroke-width="0.8"/>
<rect x="390.7" y="270.5" width="52.1" height="1" fill="#fff" opacity="0.25"/>
<rect x="390.2" y="274.22" width="38.4" height="6.2" fill="#fffefb"/>
<rect x="390.2" y="275.42" width="38.4" height="3.8" fill="#f0881c" stroke="#6a3a08" stroke-width="0.8"/>
<rect x="390.7" y="276.12" width="37.4" height="1" fill="#fff" opacity="0.25"/>
<rect x="390.2" y="279.85" width="14.2" height="6.2" fill="#fffefb"/>
<rect x="390.2" y="281.05" width="14.2" height="3.8" fill="#96e6ac" stroke="#2e6a3e" stroke-width="0.8"/>
<rect x="390.7" y="281.75" width="13.2" height="1" fill="#fff" opacity="0.25"/>
<rect x="390.2" y="285.47" width="13.6" height="6.2" fill="#fffefb"/>
<rect x="390.2" y="286.67" width="13.6" height="3.8" fill="#96e6ac" stroke="#2e6a3e" stroke-width="0.8"/>
<rect x="390.7" y="287.37" width="12.6" height="1" fill="#fff" opacity="0.25"/>
<rect x="390.2" y="291.09" width="20.2" height="6.2" fill="#fffefb"/>
<rect x="390.2" y="292.29" width="20.2" height="3.8" fill="#96e6ac" stroke="#2e6a3e" stroke-width="0.8"/>
<rect x="390.7" y="292.99" width="19.2" height="1" fill="#fff" opacity="0.25"/>
<rect x="390.2" y="296.71" width="17.1" height="6.2" fill="#fffefb"/>
<rect x="390.2" y="297.91" width="17.1" height="3.8" fill="#96e6ac" stroke="#2e6a3e" stroke-width="0.8"/>
<rect x="390.7" y="298.61" width="16.1" height="1" fill="#fff" opacity="0.25"/>
<rect x="390.2" y="302.33" width="14.2" height="6.2" fill="#fffefb"/>
<rect x="390.2" y="303.53" width="14.2" height="3.8" fill="#96e6ac" stroke="#2e6a3e" stroke-width="0.8"/>
<rect x="390.7" y="304.23" width="13.2" height="1" fill="#fff" opacity="0.25"/>
<rect x="390.2" y="307.96" width="25.2" height="6.2" fill="#fffefb"/>
<rect x="390.2" y="309.16" width="25.2" height="3.8" fill="#96e6ac" stroke="#2e6a3e" stroke-width="0.8"/>
<rect x="390.7" y="309.86" width="24.2" height="1" fill="#fff" opacity="0.25"/>
<rect x="390.2" y="313.58" width="11.4" height="6.2" fill="#fffefb"/>
<rect x="390.2" y="314.78" width="11.4" height="3.8" fill="#2db42d" stroke="#0c4a0c" stroke-width="0.8"/>
<rect x="390.7" y="315.48" width="10.4" height="1" fill="#fff" opacity="0.25"/>
<rect x="390.2" y="319.2" width="39" height="6.2" fill="#fffefb"/>
<rect x="390.2" y="320.4" width="39" height="3.8" fill="#2db42d" stroke="#0c4a0c" stroke-width="0.8"/>
<rect x="390.7" y="321.1" width="38" height="1" fill="#fff" opacity="0.25"/>
<rect x="390.2" y="324.82" width="37.7" height="6.2" fill="#fffefb"/>
<rect x="390.2" y="326.02" width="37.7" height="3.8" fill="#2db42d" stroke="#0c4a0c" stroke-width="0.8"/>
<rect x="390.7" y="326.72" width="36.7" height="1" fill="#fff" opacity="0.25"/>
<rect x="390.2" y="330.44" width="25.6" height="6.2" fill="#fffefb"/>
<rect x="390.2" y="331.64" width="25.6" height="3.8" fill="#2db42d" stroke="#0c4a0c" stroke-width="0.8"/>
<rect x="390.7" y="332.34" width="24.6" height="1" fill="#fff" opacity="0.25"/>
<rect x="390.2" y="336.07" width="34.6" height="6.2" fill="#fffefb"/>
<rect x="390.2" y="337.27" width="34.6" height="3.8" fill="#2db42d" stroke="#0c4a0c" stroke-width="0.8"/>
<rect x="390.7" y="337.97" width="33.6" height="1" fill="#fff" opacity="0.25"/>
<rect x="390.2" y="341.69" width="25.2" height="6.2" fill="#fffefb"/>
<rect x="390.2" y="342.89" width="25.2" height="3.8" fill="#2db42d" stroke="#0c4a0c" stroke-width="0.8"/>
<rect x="390.7" y="343.59" width="24.2" height="1" fill="#fff" opacity="0.25"/>
<rect x="390.2" y="347.31" width="35.5" height="6.2" fill="#fffefb"/>
<rect x="390.2" y="348.51" width="35.5" height="3.8" fill="#2db42d" stroke="#0c4a0c" stroke-width="0.8"/>
<rect x="390.7" y="349.21" width="34.5" height="1" fill="#fff" opacity="0.25"/>
<rect x="390.2" y="352.93" width="38.8" height="6.2" fill="#fffefb"/>
<rect x="390.2" y="354.13" width="38.8" height="3.8" fill="#2db42d" stroke="#0c4a0c" stroke-width="0.8"/>
<rect x="390.7" y="354.83" width="37.8" height="1" fill="#fff" opacity="0.25"/>
<rect x="390.2" y="358.55" width="30.7" height="6.2" fill="#fffefb"/>
<rect x="390.2" y="359.75" width="30.7" height="3.8" fill="#2db42d" stroke="#0c4a0c" stroke-width="0.8"/>
<rect x="390.7" y="360.45" width="29.7" height="1" fill="#fff" opacity="0.25"/>
<rect x="390.2" y="364.18" width="71.2" height="6.2" fill="#fffefb"/>
<rect x="390.2" y="365.38" width="71.2" height="3.8" fill="#2db42d" stroke="#0c4a0c" stroke-width="0.8"/>
<rect x="390.7" y="366.08" width="70.2" height="1" fill="#fff" opacity="0.25"/>
<rect x="390.2" y="369.8" width="43.4" height="6.2" fill="#fffefb"/>
<rect x="390.2" y="371" width="43.4" height="3.8" fill="#4b8ede" stroke="#1c3c68" stroke-width="0.8"/>
<rect x="390.7" y="371.7" width="42.4" height="1" fill="#fff" opacity="0.25"/>
<rect x="390.2" y="375.42" width="53.3" height="6.2" fill="#fffefb"/>
<rect x="390.2" y="376.62" width="53.3" height="3.8" fill="#4b8ede" stroke="#1c3c68" stroke-width="0.8"/>
<rect x="390.7" y="377.32" width="52.3" height="1" fill="#fff" opacity="0.25"/>
<rect x="390.2" y="381.04" width="43.8" height="6.2" fill="#fffefb"/>
<rect x="390.2" y="382.24" width="43.8" height="3.8" fill="#4b8ede" stroke="#1c3c68" stroke-width="0.8"/>
<rect x="390.7" y="382.94" width="42.8" height="1" fill="#fff" opacity="0.25"/>
<rect x="390.2" y="386.66" width="38.8" height="6.2" fill="#fffefb"/>
<rect x="390.2" y="387.86" width="38.8" height="3.8" fill="#4b8ede" stroke="#1c3c68" stroke-width="0.8"/>
<rect x="390.7" y="388.56" width="37.8" height="1" fill="#fff" opacity="0.25"/>
<rect x="390.2" y="392.29" width="39.5" height="6.2" fill="#fffefb"/>
<rect x="390.2" y="393.49" width="39.5" height="3.8" fill="#4b8ede" stroke="#1c3c68" stroke-width="0.8"/>
<rect x="390.7" y="394.19" width="38.5" height="1" fill="#fff" opacity="0.25"/>
<rect x="390.2" y="397.91" width="42.1" height="6.2" fill="#fffefb"/>
<rect x="390.2" y="399.11" width="42.1" height="3.8" fill="#4b8ede" stroke="#1c3c68" stroke-width="0.8"/>
<rect x="390.7" y="399.81" width="41.1" height="1" fill="#fff" opacity="0.25"/>
<rect x="390.2" y="403.53" width="56.3" height="6.2" fill="#fffefb"/>
<rect x="390.2" y="404.73" width="56.3" height="3.8" fill="#4b8ede" stroke="#1c3c68" stroke-width="0.8"/>
<rect x="390.7" y="405.43" width="55.3" height="1" fill="#fff" opacity="0.25"/>
<rect x="390.2" y="409.15" width="36.8" height="6.2" fill="#fffefb"/>
<rect x="390.2" y="410.35" width="36.8" height="3.8" fill="#4b8ede" stroke="#1c3c68" stroke-width="0.8"/>
<rect x="390.7" y="411.05" width="35.8" height="1" fill="#fff" opacity="0.25"/>
<rect x="390.2" y="414.77" width="61.4" height="6.2" fill="#fffefb"/>
<rect x="390.2" y="415.97" width="61.4" height="3.8" fill="#4b8ede" stroke="#1c3c68" stroke-width="0.8"/>
<rect x="390.7" y="416.67" width="60.4" height="1" fill="#fff" opacity="0.25"/>
<rect x="390.2" y="420.4" width="53.1" height="6.2" fill="#fffefb"/>
<rect x="390.2" y="421.6" width="53.1" height="3.8" fill="#6a18c4" stroke="#2a0658" stroke-width="0.8"/>
<rect x="390.7" y="422.3" width="52.1" height="1" fill="#fff" opacity="0.25"/>
<rect x="390.2" y="426.02" width="41.7" height="6.2" fill="#fffefb"/>
<rect x="390.2" y="427.22" width="41.7" height="3.8" fill="#6a18c4" stroke="#2a0658" stroke-width="0.8"/>
<rect x="390.7" y="427.92" width="40.7" height="1" fill="#fff" opacity="0.25"/>
<rect x="390.2" y="431.64" width="45.4" height="6.2" fill="#fffefb"/>
<rect x="390.2" y="432.84" width="45.4" height="3.8" fill="#6a18c4" stroke="#2a0658" stroke-width="0.8"/>
<rect x="390.7" y="433.54" width="44.4" height="1" fill="#fff" opacity="0.25"/>
<rect x="390.2" y="437.26" width="44.5" height="6.2" fill="#fffefb"/>
<rect x="390.2" y="438.46" width="44.5" height="3.8" fill="#6a18c4" stroke="#2a0658" stroke-width="0.8"/>
<rect x="390.7" y="439.16" width="43.5" height="1" fill="#fff" opacity="0.25"/>
<rect x="390.2" y="442.88" width="44.5" height="6.2" fill="#fffefb"/>
<rect x="390.2" y="444.08" width="44.5" height="3.8" fill="#6a18c4" stroke="#2a0658" stroke-width="0.8"/>
<rect x="390.7" y="444.78" width="43.5" height="1" fill="#fff" opacity="0.25"/>
<rect x="390.2" y="448.51" width="102.6" height="6.2" fill="#fffefb"/>
<rect x="390.2" y="449.71" width="102.6" height="3.8" fill="#6a18c4" stroke="#2a0658" stroke-width="0.8"/>
<rect x="390.7" y="450.41" width="101.6" height="1" fill="#fff" opacity="0.25"/>
<rect x="390.2" y="454.13" width="44.5" height="6.2" fill="#fffefb"/>
<rect x="390.2" y="455.33" width="44.5" height="3.8" fill="#6a18c4" stroke="#2a0658" stroke-width="0.8"/>
<rect x="390.7" y="456.03" width="43.5" height="1" fill="#fff" opacity="0.25"/>
<rect x="390.2" y="459.75" width="35.1" height="6.2" fill="#fffefb"/>
<rect x="390.2" y="460.95" width="35.1" height="3.8" fill="#ecec28" stroke="#5a5a08" stroke-width="0.8"/>
<rect x="390.7" y="461.65" width="34.1" height="1" fill="#fff" opacity="0.25"/>
<rect x="390.2" y="465.37" width="47.1" height="6.2" fill="#fffefb"/>
<rect x="390.2" y="466.57" width="47.1" height="3.8" fill="#ecec28" stroke="#5a5a08" stroke-width="0.8"/>
<rect x="390.7" y="467.27" width="46.1" height="1" fill="#fff" opacity="0.25"/>
<rect x="390.2" y="470.99" width="38.8" height="6.2" fill="#fffefb"/>
<rect x="390.2" y="472.19" width="38.8" height="3.8" fill="#dc2414" stroke="#5a0a04" stroke-width="0.8"/>
<rect x="390.7" y="472.89" width="37.8" height="1" fill="#fff" opacity="0.25"/>
<rect x="390.2" y="476.62" width="32.4" height="6.2" fill="#fffefb"/>
<rect x="390.2" y="477.82" width="32.4" height="3.8" fill="#dc2414" stroke="#5a0a04" stroke-width="0.8"/>
<rect x="390.7" y="478.52" width="31.4" height="1" fill="#fff" opacity="0.25"/>
<rect x="390.2" y="482.24" width="44.5" height="6.2" fill="#fffefb"/>
<rect x="390.2" y="483.44" width="44.5" height="3.8" fill="#dc2414" stroke="#5a0a04" stroke-width="0.8"/>
<rect x="390.7" y="484.14" width="43.5" height="1" fill="#fff" opacity="0.25"/>
<rect x="390.2" y="487.86" width="50.4" height="6.2" fill="#fffefb"/>
<rect x="390.2" y="489.06" width="50.4" height="3.8" fill="#dc2414" stroke="#5a0a04" stroke-width="0.8"/>
<rect x="390.7" y="489.76" width="49.4" height="1" fill="#fff" opacity="0.25"/>
<rect x="390.2" y="493.48" width="36.8" height="6.2" fill="#fffefb"/>
<rect x="390.2" y="494.68" width="36.8" height="3.8" fill="#dc2414" stroke="#5a0a04" stroke-width="0.8"/>
<rect x="390.7" y="495.38" width="35.8" height="1" fill="#fff" opacity="0.25"/>
<rect x="390.2" y="499.1" width="42.3" height="6.2" fill="#fffefb"/>
<rect x="390.2" y="500.3" width="42.3" height="3.8" fill="#dc2414" stroke="#5a0a04" stroke-width="0.8"/>
<rect x="390.7" y="501" width="41.3" height="1" fill="#fff" opacity="0.25"/>
<rect x="390.2" y="504.73" width="41.2" height="6.2" fill="#fffefb"/>
<rect x="390.2" y="505.93" width="41.2" height="3.8" fill="#dc2414" stroke="#5a0a04" stroke-width="0.8"/>
<rect x="390.7" y="506.63" width="40.2" height="1" fill="#fff" opacity="0.25"/>
<rect x="390.2" y="510.35" width="37.3" height="6.2" fill="#fffefb"/>
<rect x="390.2" y="511.55" width="37.3" height="3.8" fill="#dc2414" stroke="#5a0a04" stroke-width="0.8"/>
<rect x="390.7" y="512.25" width="36.3" height="1" fill="#fff" opacity="0.25"/>
<line x1="405.04" y1="177.6" x2="405.04" y2="516.6" stroke="#444" stroke-width="0.85" stroke-dasharray="1 0.9" opacity="0.8"/>
<line x1="419.88" y1="177.6" x2="419.88" y2="516.6" stroke="#444" stroke-width="0.85" stroke-dasharray="1 0.9" opacity="0.8"/>
<line x1="434.72" y1="177.6" x2="434.72" y2="516.6" stroke="#444" stroke-width="0.85" stroke-dasharray="1 0.9" opacity="0.8"/>
<line x1="449.56" y1="177.6" x2="449.56" y2="516.6" stroke="#444" stroke-width="0.85" stroke-dasharray="1 0.9" opacity="0.8"/>
<line x1="464.4" y1="177.6" x2="464.4" y2="516.6" stroke="#444" stroke-width="0.85" stroke-dasharray="1 0.9" opacity="0.8"/>
<line x1="479.24" y1="177.6" x2="479.24" y2="516.6" stroke="#444" stroke-width="0.85" stroke-dasharray="1 0.9" opacity="0.8"/>
<line x1="494.08" y1="177.6" x2="494.08" y2="516.6" stroke="#444" stroke-width="0.85" stroke-dasharray="1 0.9" opacity="0.8"/>
<rect x="390.2" y="177.6" width="111.15" height="339" fill="none" stroke="#222" stroke-width="0.9"/>
<line x1="388.2" y1="181.75" x2="390.2" y2="181.75" stroke="#333" stroke-width="0.6"/>
<line x1="388.2" y1="187.37" x2="390.2" y2="187.37" stroke="#333" stroke-width="0.6"/>
<line x1="388.2" y1="192.99" x2="390.2" y2="192.99" stroke="#333" stroke-width="0.6"/>
<line x1="388.2" y1="198.62" x2="390.2" y2="198.62" stroke="#333" stroke-width="0.6"/>
<line x1="388.2" y1="204.24" x2="390.2" y2="204.24" stroke="#333" stroke-width="0.6"/>
<line x1="388.2" y1="209.86" x2="390.2" y2="209.86" stroke="#333" stroke-width="0.6"/>
<line x1="388.2" y1="215.48" x2="390.2" y2="215.48" stroke="#333" stroke-width="0.6"/>
<line x1="388.2" y1="221.1" x2="390.2" y2="221.1" stroke="#333" stroke-width="0.6"/>
<line x1="388.2" y1="226.73" x2="390.2" y2="226.73" stroke="#333" stroke-width="0.6"/>
<line x1="388.2" y1="232.35" x2="390.2" y2="232.35" stroke="#333" stroke-width="0.6"/>
<line x1="388.2" y1="237.97" x2="390.2" y2="237.97" stroke="#333" stroke-width="0.6"/>
<line x1="388.2" y1="243.59" x2="390.2" y2="243.59" stroke="#333" stroke-width="0.6"/>
<line x1="388.2" y1="249.21" x2="390.2" y2="249.21" stroke="#333" stroke-width="0.6"/>
<line x1="388.2" y1="254.84" x2="390.2" y2="254.84" stroke="#333" stroke-width="0.6"/>
<line x1="388.2" y1="260.46" x2="390.2" y2="260.46" stroke="#333" stroke-width="0.6"/>
<line x1="388.2" y1="266.08" x2="390.2" y2="266.08" stroke="#333" stroke-width="0.6"/>
<line x1="388.2" y1="271.7" x2="390.2" y2="271.7" stroke="#333" stroke-width="0.6"/>
<line x1="388.2" y1="277.32" x2="390.2" y2="277.32" stroke="#333" stroke-width="0.6"/>
<line x1="388.2" y1="282.95" x2="390.2" y2="282.95" stroke="#333" stroke-width="0.6"/>
<line x1="388.2" y1="288.57" x2="390.2" y2="288.57" stroke="#333" stroke-width="0.6"/>
<line x1="388.2" y1="294.19" x2="390.2" y2="294.19" stroke="#333" stroke-width="0.6"/>
<line x1="388.2" y1="299.81" x2="390.2" y2="299.81" stroke="#333" stroke-width="0.6"/>
<line x1="388.2" y1="305.43" x2="390.2" y2="305.43" stroke="#333" stroke-width="0.6"/>
<line x1="388.2" y1="311.06" x2="390.2" y2="311.06" stroke="#333" stroke-width="0.6"/>
<line x1="388.2" y1="316.68" x2="390.2" y2="316.68" stroke="#333" stroke-width="0.6"/>
<line x1="388.2" y1="322.3" x2="390.2" y2="322.3" stroke="#333" stroke-width="0.6"/>
<line x1="388.2" y1="327.92" x2="390.2" y2="327.92" stroke="#333" stroke-width="0.6"/>
<line x1="388.2" y1="333.54" x2="390.2" y2="333.54" stroke="#333" stroke-width="0.6"/>
<line x1="388.2" y1="339.17" x2="390.2" y2="339.17" stroke="#333" stroke-width="0.6"/>
<line x1="388.2" y1="344.79" x2="390.2" y2="344.79" stroke="#333" stroke-width="0.6"/>
<line x1="388.2" y1="350.41" x2="390.2" y2="350.41" stroke="#333" stroke-width="0.6"/>
<line x1="388.2" y1="356.03" x2="390.2" y2="356.03" stroke="#333" stroke-width="0.6"/>
<line x1="388.2" y1="361.65" x2="390.2" y2="361.65" stroke="#333" stroke-width="0.6"/>
<line x1="388.2" y1="367.28" x2="390.2" y2="367.28" stroke="#333" stroke-width="0.6"/>
<line x1="388.2" y1="372.9" x2="390.2" y2="372.9" stroke="#333" stroke-width="0.6"/>
<line x1="388.2" y1="378.52" x2="390.2" y2="378.52" stroke="#333" stroke-width="0.6"/>
<line x1="388.2" y1="384.14" x2="390.2" y2="384.14" stroke="#333" stroke-width="0.6"/>
<line x1="388.2" y1="389.76" x2="390.2" y2="389.76" stroke="#333" stroke-width="0.6"/>
<line x1="388.2" y1="395.39" x2="390.2" y2="395.39" stroke="#333" stroke-width="0.6"/>
<line x1="388.2" y1="401.01" x2="390.2" y2="401.01" stroke="#333" stroke-width="0.6"/>
<line x1="388.2" y1="406.63" x2="390.2" y2="406.63" stroke="#333" stroke-width="0.6"/>
<line x1="388.2" y1="412.25" x2="390.2" y2="412.25" stroke="#333" stroke-width="0.6"/>
<line x1="388.2" y1="417.87" x2="390.2" y2="417.87" stroke="#333" stroke-width="0.6"/>
<line x1="388.2" y1="423.5" x2="390.2" y2="423.5" stroke="#333" stroke-width="0.6"/>
<line x1="388.2" y1="429.12" x2="390.2" y2="429.12" stroke="#333" stroke-width="0.6"/>
<line x1="388.2" y1="434.74" x2="390.2" y2="434.74" stroke="#333" stroke-width="0.6"/>
<line x1="388.2" y1="440.36" x2="390.2" y2="440.36" stroke="#333" stroke-width="0.6"/>
<line x1="388.2" y1="445.98" x2="390.2" y2="445.98" stroke="#333" stroke-width="0.6"/>
<line x1="388.2" y1="451.61" x2="390.2" y2="451.61" stroke="#333" stroke-width="0.6"/>
<line x1="388.2" y1="457.23" x2="390.2" y2="457.23" stroke="#333" stroke-width="0.6"/>
<line x1="388.2" y1="462.85" x2="390.2" y2="462.85" stroke="#333" stroke-width="0.6"/>
<line x1="388.2" y1="468.47" x2="390.2" y2="468.47" stroke="#333" stroke-width="0.6"/>
<line x1="388.2" y1="474.09" x2="390.2" y2="474.09" stroke="#333" stroke-width="0.6"/>
<line x1="388.2" y1="479.72" x2="390.2" y2="479.72" stroke="#333" stroke-width="0.6"/>
<line x1="388.2" y1="485.34" x2="390.2" y2="485.34" stroke="#333" stroke-width="0.6"/>
<line x1="388.2" y1="490.96" x2="390.2" y2="490.96" stroke="#333" stroke-width="0.6"/>
<line x1="388.2" y1="496.58" x2="390.2" y2="496.58" stroke="#333" stroke-width="0.6"/>
<line x1="388.2" y1="502.2" x2="390.2" y2="502.2" stroke="#333" stroke-width="0.6"/>
<line x1="388.2" y1="507.83" x2="390.2" y2="507.83" stroke="#333" stroke-width="0.6"/>
<line x1="388.2" y1="513.45" x2="390.2" y2="513.45" stroke="#333" stroke-width="0.6"/>
<line x1="390.2" y1="516.6" x2="390.2" y2="519.6" stroke="#333" stroke-width="0.7"/>
<text x="390.2" y="527.3" font-size="6.6" font-weight="normal" fill="#3a3a3a" text-anchor="middle">5</text>
<line x1="405.04" y1="516.6" x2="405.04" y2="519.6" stroke="#333" stroke-width="0.7"/>
<text x="405.04" y="527.3" font-size="6.6" font-weight="normal" fill="#3a3a3a" text-anchor="middle">6</text>
<line x1="419.88" y1="516.6" x2="419.88" y2="519.6" stroke="#333" stroke-width="0.7"/>
<text x="419.88" y="527.3" font-size="6.6" font-weight="normal" fill="#3a3a3a" text-anchor="middle">7</text>
<line x1="434.72" y1="516.6" x2="434.72" y2="519.6" stroke="#333" stroke-width="0.7"/>
<text x="434.72" y="527.3" font-size="6.6" font-weight="normal" fill="#3a3a3a" text-anchor="middle">8</text>
<line x1="449.56" y1="516.6" x2="449.56" y2="519.6" stroke="#333" stroke-width="0.7"/>
<text x="449.56" y="527.3" font-size="6.6" font-weight="normal" fill="#3a3a3a" text-anchor="middle">9</text>
<line x1="464.4" y1="516.6" x2="464.4" y2="519.6" stroke="#333" stroke-width="0.7"/>
<text x="464.4" y="527.3" font-size="6.6" font-weight="normal" fill="#3a3a3a" text-anchor="middle">10</text>
<line x1="479.24" y1="516.6" x2="479.24" y2="519.6" stroke="#333" stroke-width="0.7"/>
<text x="479.24" y="527.3" font-size="6.6" font-weight="normal" fill="#3a3a3a" text-anchor="middle">11</text>
<line x1="494.08" y1="516.6" x2="494.08" y2="519.6" stroke="#333" stroke-width="0.7"/>
<text x="494.08" y="527.3" font-size="6.6" font-weight="normal" fill="#3a3a3a" text-anchor="middle">12</text>
<rect x="354.8" y="467.6" width="24" height="12.2" fill="#fef8ec"/>
<rect x="378.8" y="467.6" width="2.6" height="12.2" fill="#fff"/>
<text x="367.85" y="475.8" font-size="8" font-weight="bold" fill="#d0203a" text-anchor="middle" textLength="24.3" lengthAdjust="spacingAndGlyphs" stroke="#d0203a" stroke-width="0.35">SN12C</text>
<line x1="372.6" y1="484.2" x2="368.93" y2="490.18" stroke="#e01818" stroke-width="1.5"/>
<path d="M365.8 495.3 L366.64 487.61 L372.27 491.05 Z" fill="#e01818"/>
<rect x="461.6" y="469" width="39.2" height="9.4" fill="#fef8ec"/>
<text x="482.15" y="476.5" font-size="7.6" font-weight="bold" fill="#6a2ad0" text-anchor="middle" textLength="38.5" lengthAdjust="spacingAndGlyphs" stroke="#6a2ad0" stroke-width="0.35">OV:SKOV3</text>
<line x1="483.2" y1="467.3" x2="486.61" y2="462.11" stroke="#6a2ad0" stroke-width="1.5"/>
<path d="M489.9 457.1 L488.82 464.76 L483.3 461.14 Z" fill="#6a2ad0"/>
<text x="132.2" y="546.4" font-size="8.6" font-weight="bold" fill="#1a1a1a" text-anchor="middle" textLength="51" lengthAdjust="spacingAndGlyphs" stroke="#1a1a1a" stroke-width="0.3">Erlotinib (<tspan font-style="italic">M</tspan>)</text>
<text x="225.6" y="542.7" font-size="8.4" font-weight="bold" fill="#1a1a1a" text-anchor="middle" textLength="61" lengthAdjust="spacingAndGlyphs" stroke="#1a1a1a" stroke-width="0.3">RAS-RAF-PTEN</text>
<text x="225.4" y="553.6" font-size="8.4" font-weight="bold" fill="#1a1a1a" text-anchor="middle" textLength="65.4" lengthAdjust="spacingAndGlyphs" stroke="#1a1a1a" stroke-width="0.3">mutation status</text>
<text x="310.4" y="542.8" font-size="8.4" font-weight="bold" fill="#1a1a1a" text-anchor="middle" textLength="55.9" lengthAdjust="spacingAndGlyphs" stroke="#1a1a1a" stroke-width="0.3">ERBB1 (EGFR)</text>
<text x="310" y="553.6" font-size="8.4" font-weight="bold" fill="#1a1a1a" text-anchor="middle" textLength="44.4" lengthAdjust="spacingAndGlyphs" stroke="#1a1a1a" stroke-width="0.3">expression</text>
<text x="440.5" y="542.8" font-size="8.4" font-weight="bold" fill="#1a1a1a" text-anchor="middle" textLength="27" lengthAdjust="spacingAndGlyphs" stroke="#1a1a1a" stroke-width="0.3">ERBB2</text>
<text x="440.3" y="553.6" font-size="8.4" font-weight="bold" fill="#1a1a1a" text-anchor="middle" textLength="44.4" lengthAdjust="spacingAndGlyphs" stroke="#1a1a1a" stroke-width="0.3">expression</text>
<rect x="0" y="0" width="520" height="574" fill="none" stroke="#66767a" stroke-width="2.6"/>
<line x1="518.9" y1="0" x2="518.9" y2="574" stroke="#5a6c6c" stroke-width="2.2"/>
<line x1="0" y1="572.9" x2="520" y2="572.9" stroke="#5a6c6c" stroke-width="2.2"/>
</svg>
</body></html>
